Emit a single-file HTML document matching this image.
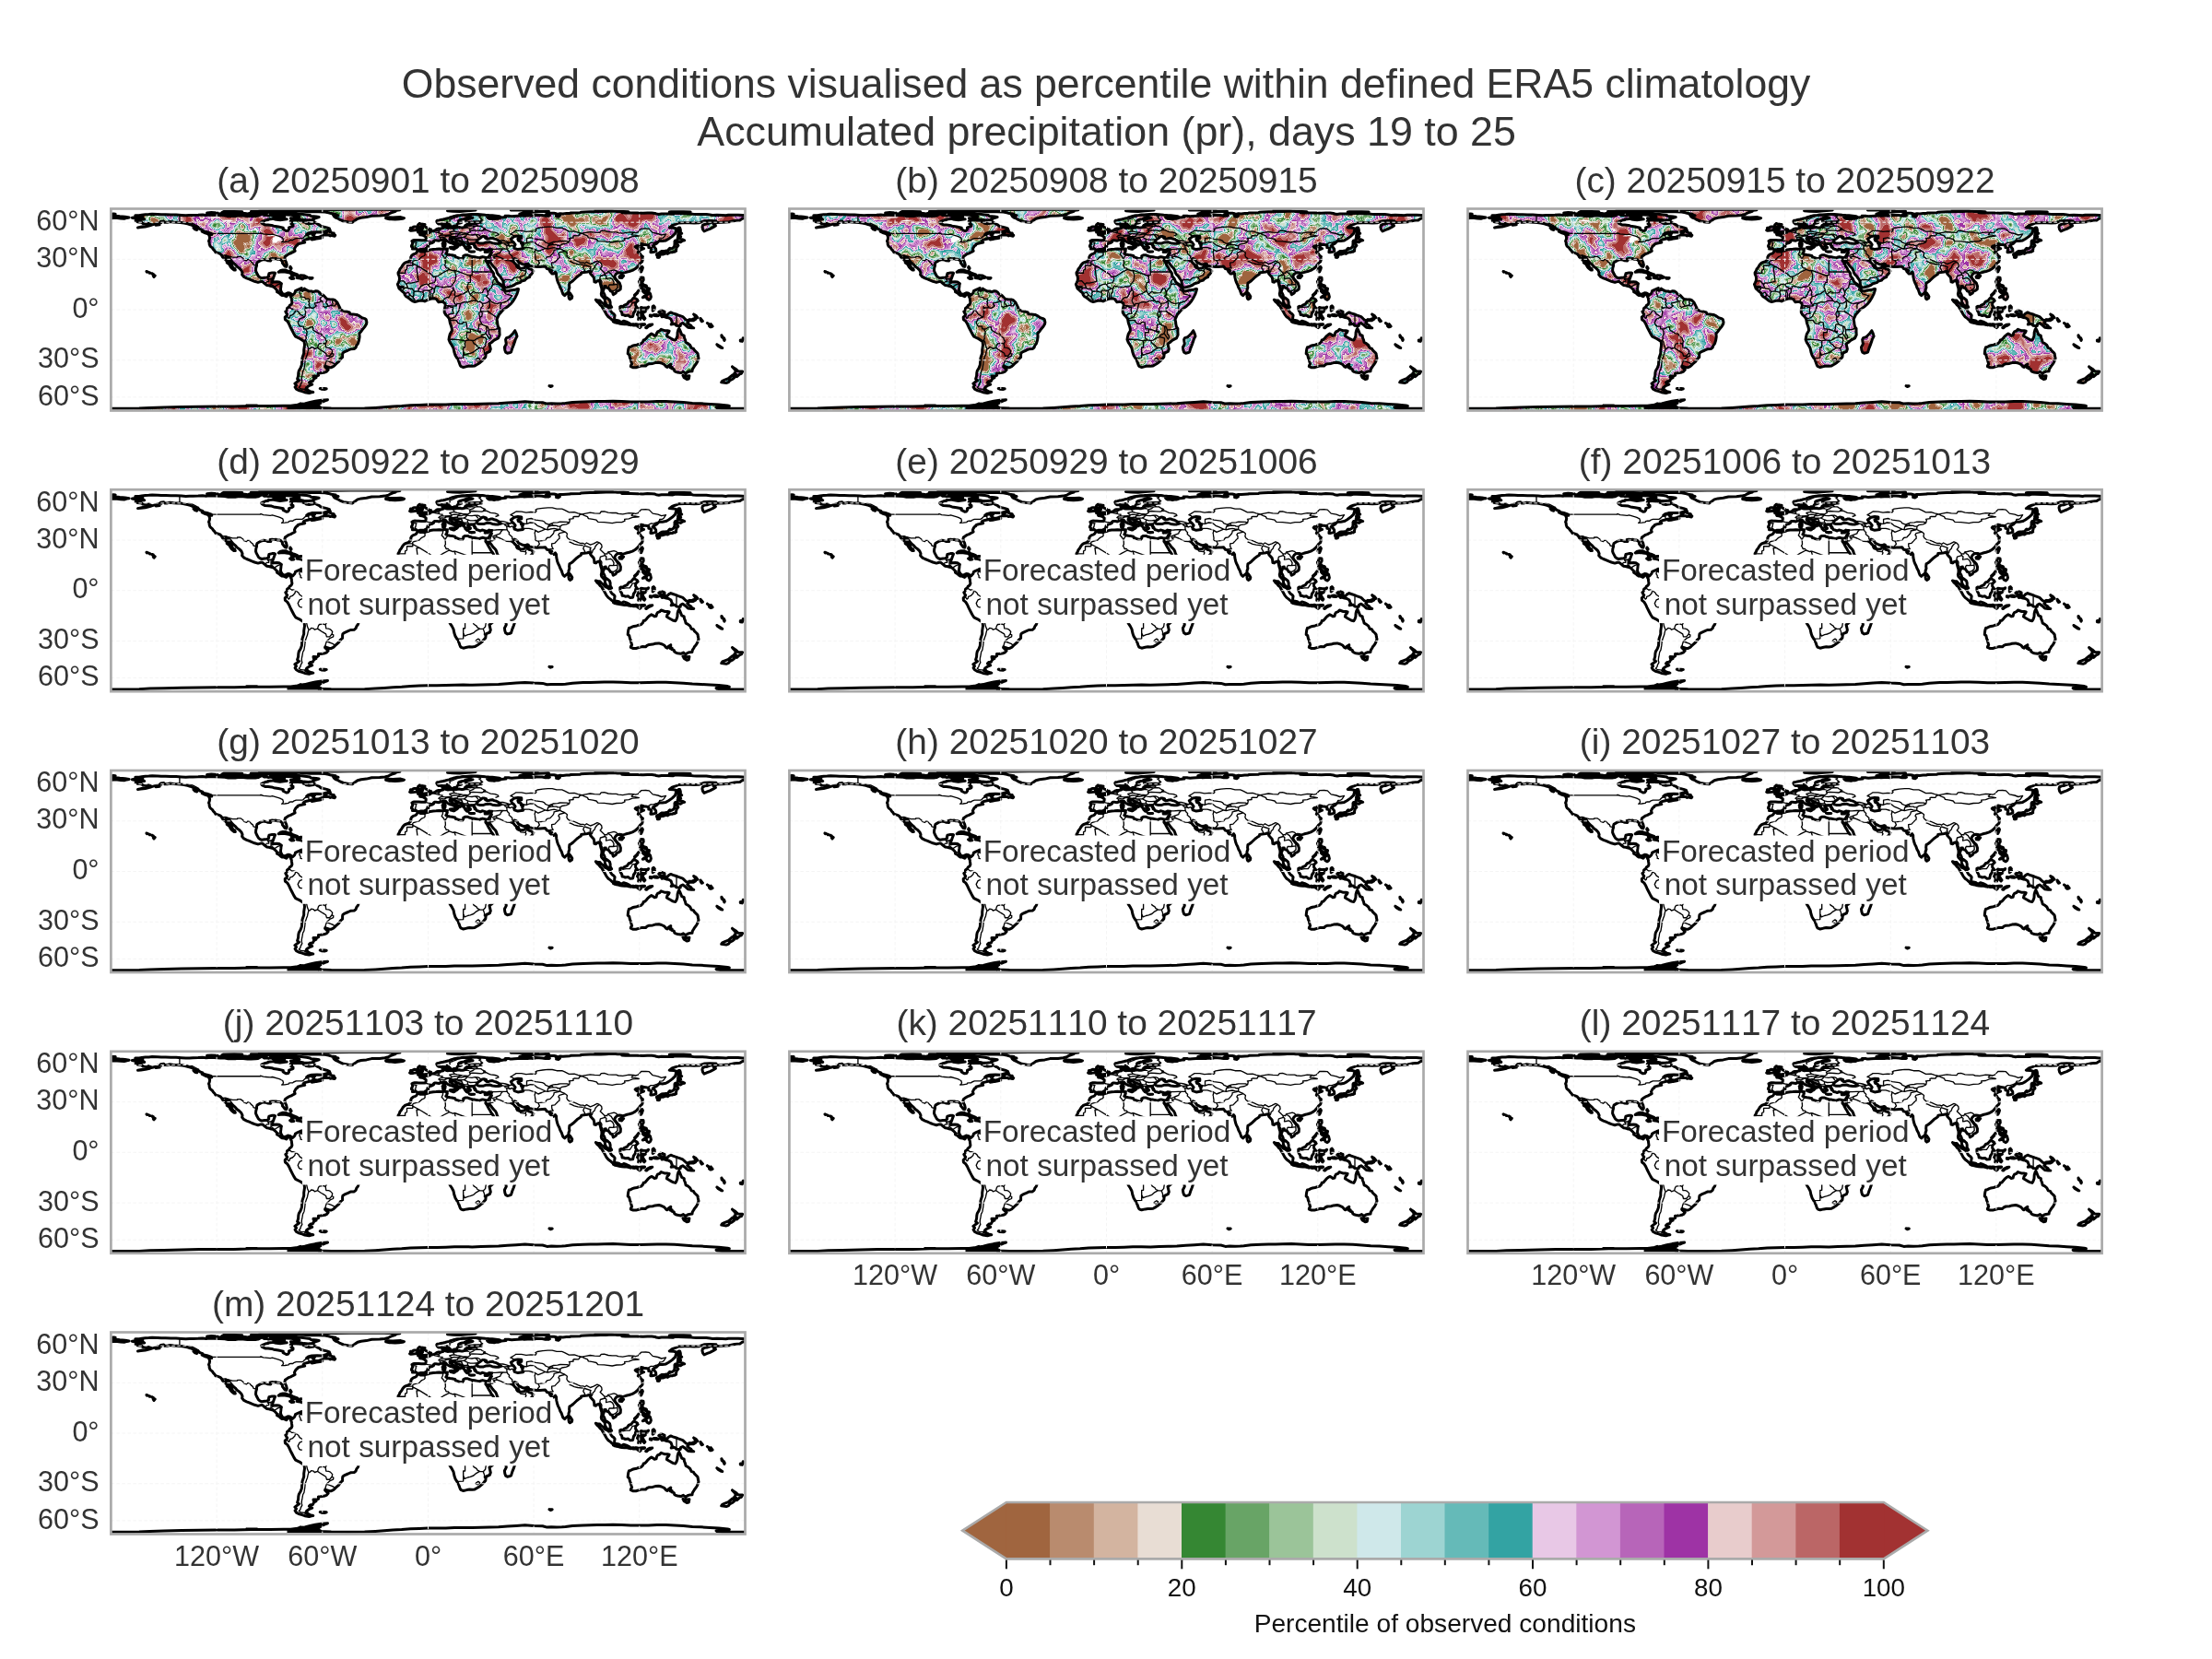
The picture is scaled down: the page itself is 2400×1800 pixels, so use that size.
<!DOCTYPE html>
<html><head><meta charset="utf-8"><title>Observed conditions percentile</title>
<style>html,body{margin:0;padding:0;background:#fff;} svg{display:block;} text{opacity:0.995;font-kerning:none;}</style></head>
<body>
<svg width="2400" height="1800" viewBox="0 0 2400 1800" font-family="Liberation Sans">
<defs>
<path id="land" d="M196.1,92.9 194,91.6 191.9,91.3 190.2,92.2 188.3,92.8 186.9,92.4 185.6,91.3 184.3,89 184.1,86.9 184.4,84.9 184.6,82.5 185,81.2 182.5,79.5 179.7,79.3 176.6,79.5 175.5,79.9 175.3,78.4 175.5,76.6 176.2,75.1 177,72.8 178.1,69.9 177.2,69.4 174.9,69.4 171.5,70.3 171.1,71.7 171.3,73.3 169.3,74.6 166.7,74.8 163.6,75.3 161.5,74.4 160,73.1 159,71.2 157.9,69.2 157.1,67.1 157.3,64.4 158.1,61.7 158.1,59.8 158.6,58.3 160.6,57.1 163,55.8 165.3,55.1 168.2,55.4 170.3,56.3 173.2,56.4 173.6,55.4 172.6,54.4 174.9,54.1 176.8,54.3 179.1,54.1 180.8,54.8 182.9,54.8 184.3,55.4 186,57.1 186,58.9 187.5,60.8 188.8,62.5 190.4,62.9 190.9,61.2 190.2,58.1 188.8,55.4 188.5,53.6 189,51.8 190.8,50.5 192.9,49.1 195,48.4 196.9,47.3 198.8,46.4 199.7,45.8 199,43.8 199.7,42.2 200.5,40.9 200.9,40.3 202.4,39.4 202.6,38.4 204.5,37.8 206.8,37.2 209.1,36.8 210.3,36.5 208.7,35 209.9,33.9 212.2,33.3 215.6,32.5 217.9,31.8 220.8,31.5 217.9,33.4 220.8,33 222.7,32.6 226.5,31.9 229.4,31.3 228.4,29.6 226.5,30.5 224.6,31.1 222.1,31 220.8,30.5 220.2,29.4 218.9,28.4 221.1,27 216.9,26.6 212.2,27.9 214.1,26.5 217.9,25.4 223.6,25.3 229.4,25.4 234.1,23.9 237.6,23 237,21.5 234.1,20.4 230.3,19.5 227.5,18.7 226.1,17.4 223.6,16.3 221,14.4 219.8,15.6 215,16.3 211.8,15.8 211,14.8 207.4,13.6 203.6,12.6 199.5,12.6 195.7,12.4 194.8,13.7 196.1,14.7 195.5,16.4 197.6,17.2 197.6,18.6 196.1,19.4 193.1,20.4 193.2,22.2 192.1,23.7 190.2,24 188.3,23 186.7,22.2 186.9,20.6 181.6,19.5 176.6,18.7 174.3,17.9 170.5,17.5 167.2,17.4 164,15.8 163.2,14.6 165,13.6 167.4,12.6 170.7,12 170.5,11.4 175.1,11 177.8,10.6 179.5,9.5 181.6,9.2 185.4,9.3 188.3,8.9 187.7,8 185.4,7.1 181.6,6.9 179.7,7.8 176.8,8.3 173.6,7.1 170.9,7.6 169.2,6.9 166.3,7.1 163.8,5.4 159.6,7.6 156.7,8 152,8.1 148.1,8.1 143.4,7.6 137.6,7.5 134.8,8 127.1,8 123.7,7.3 118.5,7.1 111.8,6.7 106.1,6.6 103.2,7 99.4,6.5 94.6,6.8 88.9,7 85.1,7.1 81.2,7.3 76.5,6.9 70.7,6.5 65,6.5 59.3,6.3 54.5,6.3 50.7,6 44.7,5.8 41.1,6.1 37.3,6.3 33.4,6.8 30.6,7.3 26.4,7.3 26.8,7.8 31,8 34.4,8.7 30.2,9 26.8,9.3 22.9,9.8 26.4,10.6 30.6,10.7 35.4,10.8 36.3,11.6 31.5,11.8 29.1,12.3 26.8,13.2 28.7,14.2 33.4,14.7 34.4,15.9 38.2,16 42.1,15.9 43.4,17 40.7,18.2 37.3,18.9 33.4,19.6 29.1,20.4 32.5,20.1 37.3,19.5 42.1,18.4 44.9,17.4 48.7,16.4 50.7,15.4 54.5,15.1 53.9,14 57.3,13.5 58.3,14.7 61.2,14.7 64,14 67.9,14.6 71.7,14.7 75.5,14.9 79.3,15.5 83.1,16.4 86,17.2 87.9,17.9 90.8,19.3 93.7,20 95.2,20.9 96.5,22.1 99.4,23.2 100.3,24.4 104.2,25.3 107,26.2 108.9,26.9 109.3,28.1 108,27.9 105.7,27.6 106.8,29.6 107.2,31.4 106.8,33.4 106.1,35.1 106.7,36.5 106.8,38.4 107.6,40.6 109.9,42.4 111.1,44.2 112.8,45.9 113.5,47.3 116.6,48.1 118.5,48.8 120,50.4 121,52.3 122.3,53.8 124.2,55.1 125.8,56.9 125.8,58.6 128.4,60.3 129.6,62.7 130.9,64.3 133.4,66.4 134.9,66.4 134.2,64.8 132.5,64.1 131.3,61.7 129.8,58.9 128.3,56.8 127.1,54.4 125.2,52.3 124.6,51.6 128.1,52.8 130,55.6 132.3,58.4 134.9,60.6 136.7,62.7 139.1,64.4 141.4,66.7 142.6,69.4 142.2,71.5 144.3,73.9 147.2,75.3 150,76.4 152.9,77.7 155.8,78.8 159.6,79.9 162.5,79.1 164.4,79.1 167.2,81.5 169.2,83 171.1,83.2 173,83.9 175.8,84.5 176.8,85.1 177.8,86 179.3,87.5 180.2,88.6 180.1,90.1 181.6,90.9 182.5,91.4 184.3,93.1 185.6,93.9 187.9,94.1 190.2,95.2 190.9,94.7 190.2,93.7 192.1,92.6 193.8,93.3 194.6,94.3 195.2,95.8 195.9,97.1 196.1,99 196.5,101.9 195.7,103.8 193.8,105.1 193.1,106.6 191.1,108 190.8,110.1 189.4,111.6 190.6,113.7 191.3,114.5 190.6,116 188.8,117.7 189,120.2 191.3,121.9 193.1,124.8 194.6,128.2 196.7,132.3 198.4,135.6 200.3,138.6 205.5,141.2 207.8,142.8 209.7,144.1 210.1,147.9 209.3,153.2 209.3,156.7 207.6,161.8 207.2,165.9 207,169.2 205.7,172.8 203.9,175.7 203.4,178.1 203.2,181.4 202.2,184.6 204.1,186.3 201.7,188 199.5,189.6 201.1,191.5 199.7,193.4 201.1,195.6 203.6,197 207.4,198.1 210.3,199.2 215,200 217.5,199.2 219.4,198.9 216,198.1 213.1,196.5 211.2,196.2 213.3,196.2 211.8,194.9 212.4,193.7 214.6,192.2 218.3,190.6 215,188.7 216.6,187.2 218.9,187 220,184.9 221.3,183.8 222.5,183.4 219.8,182.8 219.6,181.4 223.6,181.5 225.2,180.6 225,178.4 227.5,178.3 232.2,177.5 234.1,176.6 235.7,174.8 234.5,173.6 232.2,171.5 232.4,170.6 234.7,171.4 237,172.2 239.1,172.2 241.2,171.2 242.4,170.1 244.1,168.4 247.1,165.8 249.1,162.9 251.2,161.1 251.2,158.2 251.5,156.5 253.6,155.1 257.3,153.5 259.9,152.3 263.8,152.1 265.7,150.5 266.4,148.4 268,146.3 269.1,142.8 269.7,139.1 269.5,135.1 271.4,133.2 273.3,130.4 275.6,127.8 277.2,125.1 277.5,123.1 276.8,120 275.2,119.1 272.2,118.3 269.7,116.4 266.6,114.9 262.8,114.5 259.4,114.3 258.8,112.4 255.2,111.4 252.3,110.9 249.4,109.7 247.5,109.1 248.5,107.6 246.6,103.8 245.4,101.5 243.1,99.2 240.8,98.4 237.2,98.3 234.7,98.1 233,96.5 231.1,94.5 229.4,93.1 227.5,92.6 226.1,90.7 224.6,89.6 222.3,89.2 219.4,90.3 217.5,89.4 214.5,89.4 213.5,88.8 211.2,87.7 209.9,86.7 209.7,87.9 207.6,88.8 207,88.6 206.4,87.7 206.8,86 204.9,86.9 202.2,88.1 200.1,89.2 199.4,91.4 198,92.9 196.9,93.9ZM405.8,52.7 408.1,52.9 409.4,52.6 410.6,50.8 411.1,49.7 411.9,48.4 412.7,47.3 412.5,45.6 412.9,44.8 413.2,44.2 411.9,44.2 410.4,43.9 409,44.8 406.7,45.1 405.2,44.4 402.7,43.8 400.8,44.8 398.5,43.9 396.8,43.6 396.2,42.4 394.7,41.6 395.3,40.6 393.9,39.9 394.1,39 394.3,38.2 392.8,38 390.9,37.8 389.3,38.1 387.8,38.2 387.2,39.1 388.6,40 387.6,40.7 389,41.3 390.1,41.8 389.9,42.5 388.2,42.2 388,43.2 387.6,44.2 386.9,44.4 385.9,43.9 385.3,43.2 384.4,42.4 385,41.6 383.8,40.9 382.9,39.9 381.9,39.1 381.1,38.5 381.3,37.7 381.1,36.4 379.8,35.7 378.1,34.8 375.6,34.1 373.9,33.4 372.9,32.5 371.8,31.8 370.2,31.9 370,31.1 367.9,31.4 367.6,32.3 367.8,33.2 368.9,33.7 370.4,34.8 371.8,36 373.7,36.4 375,36.5 374.4,37.1 376.9,37.8 379.4,38.8 379,39.4 376.5,38.5 375.8,39.6 376.7,40.6 375.8,41.5 374.8,42.2 374.1,41.8 374.4,40.9 375,40 374.1,39.1 372.7,38.7 371.8,38.1 370.8,37.8 369.9,37.2 368.1,36.9 366.6,36.1 365.3,35.5 364.3,34.8 363.7,34 363.2,33.3 361.6,33 360.1,33.3 358.6,33.7 357.4,34.1 355.9,34.7 354.2,34.4 352.7,34.3 350.9,34.3 350,35.1 350.2,36 349,36.8 347.5,37.4 345.8,37.8 345.2,38.4 344.1,39.3 343.5,40 344.4,40.9 343.1,41.6 342.7,42.7 341.4,43 340,44.1 337.7,44.1 335.6,44.1 334.1,44.5 333.3,45.1 332.6,44.5 331.8,43.9 330.7,43.3 329,43.6 327,43.6 327.2,42.2 327,41.3 326.1,41 326.1,40 326.8,38.8 327.4,37.5 327,36.2 326.5,35 327.8,34.3 329.3,33.9 331.6,34 333.9,34.1 336.8,34.3 339.3,34.3 340.6,34.3 341.4,33.4 341.8,32.1 341.8,30.7 340.2,29.7 339.3,29 337.4,28.5 335.4,28.3 335.1,27.6 337.4,27.1 339.3,27.4 341,27.2 341.6,26 343.7,26.5 344.6,26.1 346.5,25.5 347.1,24.5 348.8,24.3 350.4,23.9 351.7,23.3 352.7,22.7 353.2,22.1 354.8,21.6 357.2,21.5 359.1,21.3 360.5,20.9 361.1,20.4 360.5,19.6 359.7,19.2 359.5,18.2 360.3,17.6 362.4,17.3 364.3,16.9 364.1,17.5 363.7,18.2 364.9,18.4 363.5,18.8 362.8,19.4 363,20 363.5,20.6 365.1,20.9 367.2,20.7 368.9,20.5 370.8,20.9 373.7,20.7 376.2,20.2 378.5,20 379.6,20.5 381.5,20.5 383.8,19.9 384.6,19.2 384.2,18.4 385,17.7 386.3,17 388,17.5 389.9,17.7 390.7,16.7 389.2,16.2 389,15.5 391.3,15.2 394.7,15.1 397.6,15.2 400.4,14.8 402,14.8 399.5,14.5 397.6,14.2 394.7,14.3 391.8,14.5 388,14.8 386.1,14.4 385,13.7 385.1,12.6 384.6,11.9 386.9,11.3 389,10.8 391.1,10.3 392.6,9.9 391.1,9.6 388,9.6 385.7,9.9 384.8,10.3 383.2,11.1 381.3,11.5 379.4,11.9 377.7,12.6 377.1,13.3 377.1,14.1 379.4,14.5 380.2,15 378.5,15.6 376.2,16 375.6,17 375.4,18.1 374.2,18.6 372.1,18.6 371.2,19.4 368.9,19.4 368.7,18.8 367.9,18.4 367.8,17.8 366.8,17.2 366.4,16.3 365.5,15.7 364.5,15.2 363.9,15.5 362.4,15.6 360.1,16.4 357.4,16.6 355.3,16.5 354.6,15.8 354,15.2 353.6,14.3 353.4,13.5 354,12.8 356.1,12.4 358,11.9 360.5,11.5 362.6,11 364.7,10.4 367,9.9 368.5,9.2 370.4,8.6 372.5,8 374.2,7.6 376.5,7.2 379.2,6.9 381.9,6.5 385.1,6.4 388,6.2 391.3,6 394.7,6 397.6,6 400.8,6.2 403.3,6.4 406.2,6.8 410,7.1 413.8,7.3 417.6,7.7 421.5,8.3 422.6,8.9 420.9,9.3 417.8,9.5 413.8,9.3 410.6,9 408.1,9 409,9.9 410.4,10.7 413.8,10.9 415.7,11.3 417.6,10.8 420.5,10.7 421.5,10.3 423.4,9.6 426.2,9.2 428.5,9.1 428.2,8.5 427.8,7.7 431.6,7.7 432.9,8.1 434.8,8.3 437.7,8 441.5,7.7 446.3,7.4 448.2,7.8 452,7.6 455.9,7.3 457.8,7.7 460.3,7.3 459.9,6.7 464.5,6.9 467.9,7.1 471.2,7.7 473.1,7.6 475,7.8 475.9,7.3 474.4,6.9 472.1,6.9 471.7,6.3 473.1,5.7 475.9,5.1 476.9,4.8 480.7,4.8 483.2,5.2 482.6,6 483.6,7.3 483.2,8.3 485.5,8.7 487,7.6 486.4,6.7 485.1,5.8 487.4,5.2 490.3,5.4 494.1,5.1 497.9,4.9 498.9,4.5 509.4,4.2 510,3.7 514.2,3.5 519.9,3.3 525.6,3.3 531.4,3.1 537.1,2.9 543.4,2.5 547.6,2.7 549.5,3 556.2,2.9 560.8,3.2 561.6,3.5 559.1,4.1 554.3,4.2 558.1,4.4 563.9,4.4 570.5,4.5 577.2,4.8 582,4.4 586.8,4.5 590.2,4.9 591.6,5.5 594.4,6 597.3,5.5 604,5.6 609.7,5.7 611.6,5.1 615.5,5 622.2,5.2 629.8,5.4 631.7,5.7 635.5,6 641.3,6 646,6.1 649.9,6.6 652.7,6.9 657.5,6.8 663.3,6.9 667.1,7.3 669.9,6.7 674.7,6.7 680.5,6.7 685.2,7.1 688.1,7.3 688.1,10.2 685.2,10.6 682.4,12.4 676.6,13 670.9,14.2 663.3,14.7 657.5,14.9 655.6,16.1 653.7,16.8 656,18.5 653.7,19.9 649.9,21.8 647,22.9 643.6,24.4 642.2,22.6 641.5,19.8 642,17.9 644.1,16.8 646.6,16.6 649.9,15.3 653.5,14.4 656.6,13.3 649.9,13 644.1,13.2 638.4,15.2 632.7,15.5 627.9,15.3 622.2,15.3 615.5,15.6 612.6,16.8 608.8,18.2 605.9,20.4 610.7,20.7 614.3,21.7 613,23.8 612.2,26.9 608.8,30.1 605,32.8 602.1,34.4 598.3,35.1 595.4,34.8 593.9,35.8 592,37.7 588.7,39.4 587.8,40.3 589.5,41.3 591.2,43.6 591.4,45.9 589.7,46.7 586.8,47.3 585.5,47.2 585.8,45.1 586.4,43.6 584.9,42.4 583.4,42.1 583.5,39.9 581.8,39.3 578.2,38.7 575.7,40.7 577.6,38.5 575.3,38 573.4,39 572.1,40 569.6,40.4 568.8,41.3 570.5,42.7 572.1,43.3 574.8,42.4 578.2,43.2 575.3,44.4 572.5,45.9 571.9,47.3 574,48.6 575.3,50.7 577,52 576.3,53.4 577,54.9 576.3,57.3 574.4,58.9 572.8,61.2 570.5,63.8 568.6,65.3 565.8,66.9 562.3,68 560,68.5 557.2,69.4 555.3,69.9 554.7,71.5 553.7,69.4 551.4,69.2 549.5,69.6 547.8,71 546.3,73.3 547.4,75.7 549.5,78.2 551.8,80.6 553,83.9 552.8,87.3 551.1,88.6 548.6,89.7 547.8,91.4 544.9,93.1 544.4,91.3 543.6,89.7 541.9,89.2 540.7,87.3 539.6,86.2 537.1,85.4 536.9,83.9 535.4,84.1 535,86.4 533.7,89.9 535,92 535.8,93.9 536.1,95.8 537.7,96.4 539.4,97.7 541.1,99.2 541.7,101.3 541.7,104.2 543.2,106.8 541.9,107 540.2,105.7 537.9,104.2 536.5,102.1 536,100 535.8,98.1 534.8,96.9 532.3,94.3 531.9,92.4 532.5,89.6 532.5,86.7 531.6,83.9 530.8,80.4 529.8,77.7 527.5,78.4 526.2,79.7 524.5,79.3 524.3,76.6 523.7,74.2 521.8,72.2 520.5,70.8 519.9,69.4 519.5,67.8 517,68.5 515.1,68.8 513.2,69 510.3,69.4 510,71 507.5,72.6 505.6,74 503.5,76 501.4,78 499.4,79.5 497.5,80.6 497.2,83.6 497.5,85.6 496.6,88.1 496.6,89.9 495,91.8 493.5,92.8 492.2,94.1 490.5,92.6 489.7,90.5 488.9,88.1 487.4,85.4 486.4,82.5 485.1,80.1 484.2,77.5 483.4,74 483.2,71.7 483.2,70.3 482.1,68.7 480.5,70.4 478.8,70.6 476.3,68 478.4,67.1 475.6,66.2 474.4,65.3 472.9,65 471.7,63.2 471.2,62.5 468.3,62.7 465.4,62.9 462.2,63.1 459.1,62.5 456.4,62.2 453.6,61.7 452.8,60 451.7,59.6 450.1,60.3 447.8,60.5 445.9,59.8 444,58.8 442.1,57.9 441,56.1 439.6,54.6 437.7,53.9 436.8,54.9 435.8,55.6 436.6,57.3 438.3,59.3 439.8,60.6 440.2,62.4 441.1,63.8 441.9,61.3 442.7,63.1 442.7,64.4 445.4,64.8 448.2,64.3 450.1,62.5 451.3,61.3 451.9,60.8 451.9,63.4 453.4,65.1 455.9,65.7 458.4,67.6 457.2,69.6 455.9,71.3 454.5,72.4 454.3,74 452.2,74.8 449.9,76.4 449.2,77.5 445.4,78.6 443.8,80.1 439.6,81.2 437.1,83 433.9,84.3 430.1,85.3 428.2,85.6 427,85.4 426.6,84.3 425.9,81.9 425.7,79.9 425.3,77.9 423.8,75.9 422,73.1 419.9,71.2 418.8,69 418.4,67.3 417.3,65 415.5,63.2 414,61.5 412.1,58.8 410.8,57.8 410.8,55.6 410.2,56.9 409.5,58.5 408.1,57.1 406.2,54.9 406.6,56.4 408.1,58.4 409,60.3 410.2,62.4 411.5,64.4 412.3,66.2 413.8,68.1 415.2,70.3 415.3,73 417.6,75.7 419.2,79.3 420.5,80.6 422.8,82.1 424.9,84.3 426.8,86 426.4,87.5 428.5,89.6 431.6,89 434.8,88.2 437.7,88.1 440.6,87.1 442.1,87.1 441.5,89.6 440.6,92.4 438.7,96.2 436.4,100 433.9,103.2 431,105.7 427.2,108.4 424.3,111 422.4,113.3 420.9,114.9 419.7,117.7 418.6,120 419.2,122.9 419.5,125.7 420.1,128.2 421.5,130 421.5,133.2 421.7,136.9 420.1,140.3 415.7,142.6 412.9,145 410.6,146.6 411.3,149.7 411.9,152.3 410.9,154.9 407.1,156.5 406.7,158.4 406.4,160.9 404.8,162.6 402.9,164.9 400.4,166.9 397.6,168.8 394.7,170.4 391.8,170.8 389,170.6 386.1,171.1 382.3,172 380,171.2 379.2,170.4 378.5,168.8 377.5,165.9 376.2,163.4 375.4,161.9 373.7,159.2 372.5,155.8 371.6,151.4 369.9,148.2 367.9,145.2 366.6,141.9 367,139.3 367.8,136 370,132.3 369.9,130 369.1,127.2 367.9,123.8 367.4,121 367,119.1 365.3,117 363.2,114.9 361.8,112.4 361.8,109.5 362.2,107.6 362.8,104.7 362.4,102.4 361.1,101.9 360.3,100.9 357.6,101.1 355.5,101.3 354.6,100.2 353.2,98.1 350.7,97.3 347.9,97.5 346,98.1 343.5,98.8 340.4,100.4 338.3,99.8 335.4,99.6 332.6,100.2 329.7,101.1 327.8,100.4 324.9,98.4 322.5,96.5 320.2,95.2 318.8,93.3 318.2,91.4 316.3,89.9 315,88.6 312.7,86.7 311.9,84.5 311,81.9 311.9,80.1 312.7,78.4 313.1,75.7 312.7,73 311.7,71 311.6,69.4 312.9,67.4 313.5,65.5 315,63.8 316.1,61.9 316.9,60.6 318.6,58.9 320.2,58.1 323,57.1 324.9,55.6 325.5,53.9 325.3,52.6 326.3,50.7 328,49.4 330.3,48.6 331.4,47.8 332.2,46.4 332.8,45.5 333.9,45.3 335.4,46.4 338.3,46.2 339.8,46.5 341.8,45.9 344.1,45.3 346.5,44.4 349.8,43.9 352.8,43.8 356.1,43.5 359.3,43.8 362.4,43.2 363.7,43.6 365.1,43.6 364.1,44.5 364.9,45.6 364.1,47.5 363.4,48.6 365.5,49.5 367.9,50 369.9,50.2 373.3,51 373.9,52.3 376.5,53.1 379.4,54.1 381.5,53.9 382.5,52.5 382.3,51.3 384.2,50.2 387.1,50.2 388.6,51 390.9,51.6 392.2,52.1 394.7,52.3 397.6,52.9 399.5,53.3 401.8,52.5 403.3,52.1ZM0,7.3 3.8,7.6 9.6,8.3 15.3,8.8 19.7,9.5 17.2,9.9 14.3,10.8 10.5,10.5 6.7,10.1 2.9,9.9 0,10.2ZM204.5,2.3 214.1,1.6 225.5,1.1 242.7,1 259.9,0.7 281,0.7 296.3,0.8 305.8,1.1 313.5,1.3 307.7,2 308.7,2.8 305.8,3.7 303,4.8 301,6 297.2,6.9 291.5,7.6 282.9,7.8 277.2,9.1 271.4,9.7 267.6,10.7 264.7,12.8 261.9,14.7 258,14.4 252.3,13.5 248.5,11.9 246.6,10.7 243.7,9.5 241.8,8 246.6,7.3 240.8,6.3 243.7,5.7 238.9,5.1 236.1,4.2 232.2,3.5 225.5,3.2 216,3.3 208.3,2.8ZM225.7,9 221.7,10.3 219.2,11 220,11.8 214.1,12.4 209.3,12.1 202.6,10.8 196.9,10.8 195,10.3 201.7,9.5 204.5,8.6 200.7,7.8 195.9,6.7 190.2,6.6 182.5,6.5 174.9,6.3 173,5.7 178.7,5.1 181.6,4.5 191.1,4.4 198.8,4.9 206.4,5.7 212.2,6.4 216,7.1 216.9,8 222.7,8.5ZM191.1,3.2 200.7,2.4 209.3,1.8 223.6,1.2 225.5,0.9 210.3,0.8 191.1,0.8 172,1.2 162.5,1.7 160.6,2.4 166.3,3 172,3.1 168.2,3.5 179.7,4 191.1,4ZM152,6.6 144.3,7.3 128.1,7.1 119.5,6.7 116.6,5.8 120.4,5 130,4.8 137.6,4.7 145.3,5.1 150,5.7ZM105.1,5.4 109.9,5.8 114.7,5.7 115.6,4.5 108.9,4.1 104.2,4.5ZM155.8,5.4 158.6,5.4 159.6,4.5 153.9,4.3 150,4.9ZM162.5,5.4 166.3,5.1 170.1,4.3 162.5,4.2ZM142.4,3.7 133.8,3.9 120.4,4.1 122.3,3.1 133.8,3 142.4,3.3ZM156.7,3.7 152,3 160.6,2.8ZM179.7,11.1 188.3,11.1 190.8,11.3 183.5,12.3 177.8,11.4ZM302,11.2 298.2,10.4 301,9.9 298.2,9.8 301,9.2 305.8,9.4 309.6,9.3 314.4,9.1 316.3,9.6 318.1,10.1 316.3,10.8 312.5,11.3 308.3,11.6 303.9,11.3ZM365.1,2.2 370.8,1.7 380.4,1.5 395.7,1.6 386.1,2.3 378.5,3 370.8,2.7ZM443.4,5.7 451.1,6.2 455.9,6 451.1,4.8 458.7,3.5 475,2.8 464.5,3 453,3.5 447.3,4.5ZM525.6,2 535.2,1.8 544.7,2.2 539,1.5 525.6,1.3ZM605.9,3.5 615.5,3.8 628.8,3.6 621.2,3.2 607.8,3.3ZM433.9,1.5 449.2,1.6 462.6,1.3 454.9,1.1 439.6,1.3ZM0.2,5.7 4.8,5.8 2.9,5.6ZM333.2,25.5 336,25.1 337.6,24.9 341.2,24.8 344.6,24.6 346.7,24.2 346,23.5 347.3,22.6 346.9,22.2 344.6,22.1 344.4,21.5 343.7,20.9 341.9,20.2 341,19.3 339.8,18.8 338.3,18.7 339.1,18.4 340.2,17.7 340.6,17 338.1,16.9 336.2,17 337.9,16 334.5,16 334.1,16.6 333.2,17.4 333.2,18.2 333.5,18.7 333.3,19.5 334.3,20 335.6,19.9 337.4,19.9 337.6,20.5 338.3,21.1 338.1,21.7 336,21.7 335.3,22.3 336.2,22.9 334.7,23.3 334.1,23.6 336,23.7 337.7,23.9 337.2,24.2 335.8,24.2 334.5,25ZM332.6,23.2 332.2,22.1 332.4,21.1 333.3,20.6 332.8,19.9 331.6,19.6 329.5,19.5 328,19.8 327.6,20.6 325.1,20.7 324.9,21.5 326.5,21.8 325.1,22.5 324.2,23.3 325.5,23.8 328,23.6 330.7,23.1ZM367.8,42.1 369.7,41.8 373.9,41.6 372.9,43.6 371.8,43.9 368.1,42.7ZM360.1,40.6 362.4,40.4 362.8,37.8 361.6,37.4 359.7,37.8 360.1,39.3ZM360.5,37.1 362,37.1 362.2,35 360.5,35.7ZM389,46.2 394.3,46.4 390.9,46.7ZM405.8,46.9 409,46.9 410.2,45.6 407.1,46.1ZM365.1,19.6 368.1,19.2 367.4,18.6 365.1,18.9ZM594.3,48.4 595.2,47.6 597.5,46.1 599.2,45.9 601.1,45.8 603,45.6 604.2,45.5 605.5,43.5 606.5,42.8 606.5,43.9 608.4,43.2 610.3,42.1 611.1,40.6 611.6,39.4 611.5,38.2 612.2,37.4 614.1,37.1 614.5,38.4 615.5,39.9 614.7,40.9 613.6,41.6 613.4,43.6 612.8,45.1 613.2,45.8 611.6,46.7 610.1,46.4 609.4,47.2 606.9,47.3 605.5,47.8 604,48.9 602.7,48.4 602.5,47.3 600.6,47.3 598.3,47.8 596.7,48.4ZM592.1,49.2 593.5,48.4 594.4,48.8 595.8,49.4 595.2,52.3 594.4,53.1 592.9,52.8 592.9,50.7 592.1,50.2ZM597.3,49.4 598.8,49.5 601.5,48.6 601.1,48 599.2,47.8 598.1,48.3ZM611.6,36.9 613.6,36.7 614.5,35.5 618,36.2 620.2,34.8 622.3,34.4 620.2,33.4 617,32.5 614.9,31.5 614.7,33.2 614.3,34.4 612.2,34.4 611.6,35.5ZM615.5,30.7 616.8,29.9 618.3,30.2 617.4,28.8 616.6,27.5 619.3,26.9 617.8,25.4 618,23.8 617.8,22.3 617.2,20.6 615.8,20.6 616.4,22.1 614.9,23.2 615.7,25 615.5,27.5 615.1,29.4ZM573.6,66.7 574.8,68.5 575.3,68.3 576.3,66.2 577,63.9 576.3,62.7 574.8,63.9 573.8,65.5ZM551.6,73.5 554.3,71.9 556.2,72.8 554.3,75.1 551.8,74.8ZM574.4,74.8 575.7,74.6 577.6,74.8 577.8,77.3 576.5,79.5 576.7,81.4 578.4,82.7 580.9,83.4 581.4,85.6 579.7,84.9 578.2,83.8 576.3,83.4 574.8,82.5 574.6,81.5 573.4,80.2 573,78.8 574,78ZM577,96.2 578.8,94.7 580.5,94.7 581.4,93.7 583,92.4 583.9,90.9 585.1,92 586,95.6 585.3,97.5 583.7,98.8 581.6,97.7 580.9,95.6 578.8,95.8ZM582,85.8 584.1,86.7 583.4,89.9 582.6,90.5 581.6,88.6ZM577.2,86.9 579.5,88.6 580.1,92 578.2,90.7 577,89.4ZM568.1,93.7 570.5,91.4 572.5,88.6 572.7,89.7 570.7,92 568.4,94.3ZM574,83.9 576.3,84.5 575.7,86.2 574.2,85.8ZM552.4,106.3 553.5,105.7 555.3,106.3 556.6,104.9 560,103.4 561.9,100.7 564.2,100 565.8,98.1 567.3,96.4 569,97.3 570.7,98.3 571.9,99.6 570.2,101.1 569.2,102.3 569.2,104.9 571.3,107.6 569.4,108 568.6,111 567.1,113 566.2,117 563.1,117.2 561.2,115.6 558.1,116 556.2,115.2 554.7,115.1 554.3,112.6 553,110.7 552.4,108.6ZM526,98.8 528.5,99.6 530.6,99.6 531.9,101.3 534.8,103.4 536.1,105.3 538.1,106.1 540,107.4 541.9,109.5 542.5,111.4 543.8,113 545.7,114.3 546.7,115.6 546.3,118.1 546.3,120.6 544,120.8 541.9,118.9 539.6,117.2 537.7,114.9 536,111.8 534.6,109.3 533.3,107.4 532.5,105.7 530.8,104.4 529.3,102.4 527.5,100.9ZM545.1,122.5 546.8,120.8 548.6,121 551.1,121.5 552.4,122.5 555.1,122.7 556.2,121.7 559.3,122.7 562.7,124.4 562.9,126.1 560,125.3 557.2,125.3 554.3,124.9 551.4,124.4 548.6,123.8 546.7,123.4ZM562.9,124.9 565.2,125.5 564.2,126.3ZM565.8,125.3 567.1,125.3 566.5,126.5ZM567.3,125.7 569.6,125.1 571.5,125.5 570.5,126.3 567.7,126.6ZM573,125.7 576.3,125.3 579.2,125.3 578.2,126.1 574.4,126.3ZM571.5,127.6 574.9,128.2 573.8,129.1ZM580.3,129.1 582,127.2 584.9,125.7 587.4,125.5 585.8,126.5 583,127.6 581.1,129.3ZM572.3,120 572.7,117.2 572.5,116.2 571.1,114.9 572.1,112.4 573,109.7 573.8,108.4 575.1,107 578.2,107.6 581.4,107.6 583.2,106.6 582,108.8 579.5,108.8 576.5,108.6 574.4,108.9 573.6,110.9 575.1,112.2 576.5,111.4 578.8,111 579.9,111.4 577.8,112.6 576.1,113.9 577.2,115.2 578.2,117.2 579.5,118.9 578.6,120 577,118.5 576.1,117.2 575.1,115.2 574.2,114.9 574.2,118.3 574.2,120ZM587.8,106.1 588.7,105.3 589.9,106.8 588.7,108 590,108.8 588.7,110.1 587.8,110.7 587.9,108.6 587.6,107.2ZM588.9,115.1 591.6,114.9 594.1,116 592.5,116.2 589.7,116ZM584.9,115.6 587.2,115.8 586.4,116.8 584.9,116.4ZM594.4,112.2 596.4,110.3 599.2,110.9 600.6,111.6 600.7,114.9 603,116 605,113.7 607.4,112.4 609.7,113.3 613.2,114.5 615.5,115.4 618.3,116.4 620.4,117.2 622.7,119.4 624.1,120.6 626.2,121.3 626.6,122.5 625.4,123.6 627.3,125.5 629.4,126.8 630.4,128.5 632.3,129.3 629.8,129.3 626,128.7 623.5,126.3 620.4,124 618.1,125.1 617.8,127 615.8,127 613.6,126.8 611.5,124.9 609.4,125.3 607.8,125.5 609,123.4 608.4,122.1 607.6,119.8 605,118.3 602.5,117.9 599.4,116.8 597.9,117.3 596.4,115.1 598.6,114.1 596.7,113.7 594.8,112.6ZM627.5,120.2 630.8,120 633.6,118.9 635.2,117.7 634.2,120 631.7,121.3 628.3,121.2ZM632.3,114.5 634.6,115.8 636.5,118.1 635.7,118.5 633.6,116.4ZM639.6,119.1 642,121.9 640.9,122.3 639.7,120.2ZM649.1,127.2 651.4,128.2 650.3,128.3ZM651,125.3 652.7,127.6 652.2,127.8ZM647,124 649.5,125.5 648.9,125.7ZM662.5,137.3 663.6,138.8 663.6,139.7 662.7,139ZM665.2,140.3 665.9,142.1 665.5,143 664.8,141.2ZM657.5,147.3 660.4,149.1 663.3,151.1 662.3,150.9 658.5,148.6ZM682.9,142.4 685.4,142.3 684.9,143.9 682.9,143.5ZM685.8,140.4 687.9,141 686.8,141.4ZM562.1,150.2 561.4,152.3 561,154.9 560.8,157.2 562.3,158.2 563.1,161.8 563.9,163.4 564.4,165.9 565.2,168.4 564.1,170.1 563.9,171.2 566.7,172.3 569.6,172.3 572.5,171.4 576.3,170.4 580.1,170.6 581.6,169.2 583.9,168.2 587.8,167.9 590.6,167.1 594.4,166.7 597.3,167.5 600.2,168.8 602.5,171.5 603.6,172 604.6,170.4 606.3,169.2 607.4,168.5 607.1,170.6 606.7,172.3 608,172.3 608.8,172 608.4,173.3 610.9,174.2 611.3,175.9 612.8,176.9 614.7,177.5 618.3,178.1 621,176.8 622.2,177.8 623.7,178.6 625.6,177.2 627.5,176.6 630.6,176.2 630.9,174.2 632.3,172 633.2,170.4 634.6,168.8 635.9,166.7 636.7,164.8 637.6,162.3 636.9,159.2 636.7,157.2 635.5,155.8 633.2,153.7 631.9,151.6 629.8,151.1 628.3,148 626,146.1 623.7,145 623.1,142.4 622,139.7 621.8,137.7 619.3,136.6 618.3,134.2 617.4,131.9 616.4,129.8 615.5,131.3 614.7,134.2 614.5,137.9 613.6,140.6 612.4,142.6 610.3,142.1 607.8,140.8 605.5,139.5 603,137.9 603.6,135.6 605.1,134.2 605.7,132.7 604,132.3 601.1,132.3 598.3,131.3 596.9,130.8 595.4,132.5 593.1,133.4 592.1,135.1 591.6,137.3 589.7,137.7 588.3,136.6 586.4,135.6 584.5,136.8 582.6,138.4 581.1,140.3 579.5,142.1 577.8,142.4 577.2,144.3 575.3,146.3 572.5,147 570.5,147.7 567.7,148.2 565.8,148.8 563.5,150ZM620.6,180.9 624.1,181.5 627.5,181.2 626.9,184.5 624.8,185 621.8,183.2ZM674.1,171.4 677.6,173.7 680.3,176.2 685.2,176.5 684.1,178.7 682.2,179.3 679.1,182.2 678,181.8 678.5,179.8 676.2,178.9 677.8,176.9 677.2,174.7ZM674.1,180.6 677.2,182.1 676.2,183.4 674.1,185 671.3,186.4 670.1,188.2 667.6,189.1 662.3,188.3 663.3,186.8 666.1,185.6 669.9,184.2 671.9,182.5ZM438.3,132.3 439.6,134.9 440.6,138.4 438.9,141.5 438.1,144.3 436.8,147.9 435.4,151.4 434.1,155.6 432,156.3 430.1,156.7 428.2,155.6 427.4,153.2 427,150.2 427.8,148.8 428.9,146.6 428.5,144.3 428.2,141.9 429.1,140.1 432,139.3 433.9,137.5 435.4,136 436.6,134.7ZM496.8,90.9 498.1,91.6 499.3,93.3 500.4,95.2 500,97.1 498.1,98.3 497,97.3 496.6,95.2 496.6,93.3ZM181.8,68.7 183.5,67.3 186.4,66.5 189.6,66.5 192.5,67.8 195,68 196.9,69.4 199.4,70.3 202.2,71.5 201.7,72.1 199.5,72.2 195.9,72.2 196.1,71 194,69.4 190.2,68.8 187.3,68.3 184.4,68.5ZM201.8,74.9 203.9,72.6 205.9,72.2 209.3,72.4 211.6,73.5 213.3,74.6 211.8,74.9 209.3,75.3 207.8,76.4 205.5,75.5ZM194.2,74.9 196.9,74.8 198.4,75.7 195.9,76ZM215.4,74.8 218.7,74.9 218.3,75.7 215.6,75.7ZM194.6,62.9 195.7,64.6 195.3,65.3 194.2,63.9ZM230.5,28.6 233.4,26.2 235.5,24.2 238,23.7 237.2,25 239.9,26.1 241.8,26.5 242.4,28.1 243.3,28.8 242.7,29.8 240.8,29.4 239.9,28.9 238,29.4 236.6,28.6ZM98.8,24.6 101.3,25.1 104.2,25.7 108.2,27.6 105.5,27.4 102.3,26.4ZM89.6,20.8 91.7,21.3 93.3,23 91.2,22.4ZM205.5,211.6 213.1,212.4 209.3,214 200.7,213.4ZM147.2,213.6 158.6,213.6 156.7,214 149.1,214ZM48.7,17.7 52.8,17.2 50.7,16.6ZM46.1,71.7 47.8,72.6 46.6,74 45.9,73ZM44.7,70.3 45.9,70.8 45.1,71ZM41.5,69.2 42.6,69.7 41.9,69.7ZM38.6,68.1 39.6,68.3 39,68.7ZM226.9,195 231.3,195 233.8,195.3 232.2,196 228.4,195.8ZM475.6,192.2 478.8,192.3 476.9,193ZM0,216.8 19.1,216.8 30.6,216.6 42.1,215.9 57.3,215.6 76.5,215.1 95.6,214.8 114.7,214.6 133.8,214.6 152.9,214 172,214 187.3,213.8 195,213.7 202.6,212.7 210.3,211.4 216,209.9 221.7,208.8 228.4,207.8 235.1,207.3 232.2,208.4 229.4,209.6 226.5,211.4 224.6,213.1 225.5,214.5 227.5,215.5 225.5,216.1 238.9,216.6 258,216.7 275.2,216.5 286.7,215.9 296.3,215.2 305.8,214.5 315.4,214 324.9,213.2 334.5,212.9 344.1,212.6 353.6,212.6 363.2,212.4 372.7,212 382.3,211.9 391.8,212.1 401.4,211.8 410.9,211.5 420.5,211.2 430.1,210.5 439.6,209.9 449.2,209.3 458.7,209.9 468.3,210.2 473.1,211.6 477.8,211.2 483.6,211.4 489.3,211.3 493.1,211 500.8,210 512.3,209.4 519.9,209.2 527.5,209.1 535.2,208.9 544.7,208.8 554.3,209.1 563.9,209.6 573.4,209.6 583,209.4 592.5,209.1 602.1,209.1 611.6,209.5 621.2,210.1 630.8,210.9 640.3,211.3 649.9,211.9 659.4,212.4 669,213.4 670.9,214 667.1,214.5 661.3,215 656.6,215.4 657.5,216.1 663.3,216.7 672.8,216.8 688.1,216.8 688.1,219 0,219ZM433.9,32.8 437.7,30.1 441.5,29.4 445.4,29.7 445.4,31.7 441.5,32.8 442.1,34.5 444.8,35.5 445.2,37.7 447.3,37.8 446.3,40.2 447.1,43.2 441.5,44.1 437.7,42.8 437.5,41.3 438.7,38.8 436.9,36.5 434.8,34.8 434.6,33.4ZM396.6,35.5 397.6,34.1 398.9,33 400.8,31.7 402.9,30.1 404.6,29.9 407.1,30.7 406.2,31.7 408.1,32.8 410,32.6 411.9,31.9 413.8,31.7 415.7,32.6 417.6,33 419.9,34.1 423.4,36.9 420.5,37.7 417.6,37.8 413.8,37.2 410.9,36.2 407.1,36.4 404.3,37.4 399.7,37.4 397.6,36.8ZM168,29.8 172,29.9 175.8,29.4 178.7,30.1 182.3,30.1 182,28.8 179.7,27.4 174.9,27.6 172,28.3 169.2,29.2ZM175.5,36.9 179.7,36.8 181.2,34.8 183.9,34.3 186.9,35.1 190,33 189.6,31 183.5,29.9 178.1,30.3 175.8,31.4 175.3,34.1ZM182.2,30.9 184.4,30.7 188.3,30.9 190.8,31.7 190.2,32.6 188.1,33.2 186.6,34.8 186.2,33.7 184.6,33.4 184.6,32.1 182.5,31.3ZM184.6,36.7 188.3,36.8 191.5,36 193.2,35.1 190.2,35.4 186.4,36.2ZM191.5,34.4 195,34.4 198.2,34.1 198.2,33.2 195.9,33.4 192.5,33.9ZM157.7,25 159.6,25 159,22.6 155.8,21.1 154.2,21.5 158.1,23.8ZM120.4,13.7 128.1,13.7 134.8,12.4 127.1,12.1 121.4,13ZM105.1,10.3 116.6,9.9 118.5,9.1 112.8,8.7 106.1,9.3ZM404.4,110.1 409,109.9 409,112.4 408.1,114.7 405.2,114.3 404.6,112ZM542.5,23.6 545.7,23.6 551.4,21.7 553.9,19.2 552.8,18.9 549.5,21.4 545.7,22.6ZM401,14.7 406.7,14.1 406.2,13.5 402.3,13.5ZM410,13.7 413.8,13.5 411.9,12.1 410,12.6ZM484.5,30.5 495,30.1 495.4,29.6 486.4,29.7ZM211.2,138.4 212.7,139.3 211.8,140.3 210.3,139.3Z" fill-rule="evenodd"/>
<clipPath id="landclip"><use href="#land" clip-rule="evenodd"/></clipPath>
<path id="wedge" d="M191.1,214 198.8,213.7 206.4,212.6 214.1,210.8 221.7,208.9 231.3,207.6 228.4,209.2 225.5,211.4 224.6,213.7 226.5,215.8 225.5,217.4 191.1,217.4Z" fill="#000"/>
<path id="coast" d="M196.1,92.9 194,91.6 191.9,91.3 190.2,92.2 188.3,92.8 186.9,92.4 185.6,91.3 184.3,89 184.1,86.9 184.4,84.9 184.6,82.5 185,81.2 182.5,79.5 179.7,79.3 176.6,79.5 175.5,79.9 175.3,78.4 175.5,76.6 176.2,75.1 177,72.8 178.1,69.9 177.2,69.4 174.9,69.4 171.5,70.3 171.1,71.7 171.3,73.3 169.3,74.6 166.7,74.8 163.6,75.3 161.5,74.4 160,73.1 159,71.2 157.9,69.2 157.1,67.1 157.3,64.4 158.1,61.7 158.1,59.8 158.6,58.3 160.6,57.1 163,55.8 165.3,55.1 168.2,55.4 170.3,56.3 173.2,56.4 173.6,55.4 172.6,54.4 174.9,54.1 176.8,54.3 179.1,54.1 180.8,54.8 182.9,54.8 184.3,55.4 186,57.1 186,58.9 187.5,60.8 188.8,62.5 190.4,62.9 190.9,61.2 190.2,58.1 188.8,55.4 188.5,53.6 189,51.8 190.8,50.5 192.9,49.1 195,48.4 196.9,47.3 198.8,46.4 199.7,45.8 199,43.8 199.7,42.2 200.5,40.9 200.9,40.3 202.4,39.4 202.6,38.4 204.5,37.8 206.8,37.2 209.1,36.8 210.3,36.5 208.7,35 209.9,33.9 212.2,33.3 215.6,32.5 217.9,31.8 220.8,31.5 217.9,33.4 220.8,33 222.7,32.6 226.5,31.9 229.4,31.3 228.4,29.6 226.5,30.5 224.6,31.1 222.1,31 220.8,30.5 220.2,29.4 218.9,28.4 221.1,27 216.9,26.6 212.2,27.9 214.1,26.5 217.9,25.4 223.6,25.3 229.4,25.4 234.1,23.9 237.6,23 237,21.5 234.1,20.4 230.3,19.5 227.5,18.7 226.1,17.4 223.6,16.3 221,14.4 219.8,15.6 215,16.3 211.8,15.8 211,14.8 207.4,13.6 203.6,12.6 199.5,12.6 195.7,12.4 194.8,13.7 196.1,14.7 195.5,16.4 197.6,17.2 197.6,18.6 196.1,19.4 193.1,20.4 193.2,22.2 192.1,23.7 190.2,24 188.3,23 186.7,22.2 186.9,20.6 181.6,19.5 176.6,18.7 174.3,17.9 170.5,17.5 167.2,17.4 164,15.8 163.2,14.6 165,13.6 167.4,12.6 170.7,12 170.5,11.4 175.1,11 177.8,10.6 179.5,9.5 181.6,9.2 185.4,9.3 188.3,8.9 187.7,8 185.4,7.1 181.6,6.9 179.7,7.8 176.8,8.3 173.6,7.1 170.9,7.6 169.2,6.9 166.3,7.1 163.8,5.4 159.6,7.6 156.7,8 152,8.1 148.1,8.1 143.4,7.6 137.6,7.5 134.8,8 127.1,8 123.7,7.3 118.5,7.1 111.8,6.7 106.1,6.6 103.2,7 99.4,6.5 94.6,6.8 88.9,7 85.1,7.1 81.2,7.3 76.5,6.9 70.7,6.5 65,6.5 59.3,6.3 54.5,6.3 50.7,6 44.7,5.8 41.1,6.1 37.3,6.3 33.4,6.8 30.6,7.3 26.4,7.3 26.8,7.8 31,8 34.4,8.7 30.2,9 26.8,9.3 22.9,9.8 26.4,10.6 30.6,10.7 35.4,10.8 36.3,11.6 31.5,11.8 29.1,12.3 26.8,13.2 28.7,14.2 33.4,14.7 34.4,15.9 38.2,16 42.1,15.9 43.4,17 40.7,18.2 37.3,18.9 33.4,19.6 29.1,20.4 32.5,20.1 37.3,19.5 42.1,18.4 44.9,17.4 48.7,16.4 50.7,15.4 54.5,15.1 53.9,14 57.3,13.5 58.3,14.7 61.2,14.7 64,14 67.9,14.6 71.7,14.7 75.5,14.9 79.3,15.5 83.1,16.4 86,17.2 87.9,17.9 90.8,19.3 93.7,20 95.2,20.9 96.5,22.1 99.4,23.2 100.3,24.4 104.2,25.3 107,26.2 108.9,26.9 109.3,28.1 108,27.9 105.7,27.6 106.8,29.6 107.2,31.4 106.8,33.4 106.1,35.1 106.7,36.5 106.8,38.4 107.6,40.6 109.9,42.4 111.1,44.2 112.8,45.9 113.5,47.3 116.6,48.1 118.5,48.8 120,50.4 121,52.3 122.3,53.8 124.2,55.1 125.8,56.9 125.8,58.6 128.4,60.3 129.6,62.7 130.9,64.3 133.4,66.4 134.9,66.4 134.2,64.8 132.5,64.1 131.3,61.7 129.8,58.9 128.3,56.8 127.1,54.4 125.2,52.3 124.6,51.6 128.1,52.8 130,55.6 132.3,58.4 134.9,60.6 136.7,62.7 139.1,64.4 141.4,66.7 142.6,69.4 142.2,71.5 144.3,73.9 147.2,75.3 150,76.4 152.9,77.7 155.8,78.8 159.6,79.9 162.5,79.1 164.4,79.1 167.2,81.5 169.2,83 171.1,83.2 173,83.9 175.8,84.5 176.8,85.1 177.8,86 179.3,87.5 180.2,88.6 180.1,90.1 181.6,90.9 182.5,91.4 184.3,93.1 185.6,93.9 187.9,94.1 190.2,95.2 190.9,94.7 190.2,93.7 192.1,92.6 193.8,93.3 194.6,94.3 195.2,95.8 195.9,97.1 196.1,99 196.5,101.9 195.7,103.8 193.8,105.1 193.1,106.6 191.1,108 190.8,110.1 189.4,111.6 190.6,113.7 191.3,114.5 190.6,116 188.8,117.7 189,120.2 191.3,121.9 193.1,124.8 194.6,128.2 196.7,132.3 198.4,135.6 200.3,138.6 205.5,141.2 207.8,142.8 209.7,144.1 210.1,147.9 209.3,153.2 209.3,156.7 207.6,161.8 207.2,165.9 207,169.2 205.7,172.8 203.9,175.7 203.4,178.1 203.2,181.4 202.2,184.6 204.1,186.3 201.7,188 199.5,189.6 201.1,191.5 199.7,193.4 201.1,195.6 203.6,197 207.4,198.1 210.3,199.2 215,200 217.5,199.2 219.4,198.9 216,198.1 213.1,196.5 211.2,196.2 213.3,196.2 211.8,194.9 212.4,193.7 214.6,192.2 218.3,190.6 215,188.7 216.6,187.2 218.9,187 220,184.9 221.3,183.8 222.5,183.4 219.8,182.8 219.6,181.4 223.6,181.5 225.2,180.6 225,178.4 227.5,178.3 232.2,177.5 234.1,176.6 235.7,174.8 234.5,173.6 232.2,171.5 232.4,170.6 234.7,171.4 237,172.2 239.1,172.2 241.2,171.2 242.4,170.1 244.1,168.4 247.1,165.8 249.1,162.9 251.2,161.1 251.2,158.2 251.5,156.5 253.6,155.1 257.3,153.5 259.9,152.3 263.8,152.1 265.7,150.5 266.4,148.4 268,146.3 269.1,142.8 269.7,139.1 269.5,135.1 271.4,133.2 273.3,130.4 275.6,127.8 277.2,125.1 277.5,123.1 276.8,120 275.2,119.1 272.2,118.3 269.7,116.4 266.6,114.9 262.8,114.5 259.4,114.3 258.8,112.4 255.2,111.4 252.3,110.9 249.4,109.7 247.5,109.1 248.5,107.6 246.6,103.8 245.4,101.5 243.1,99.2 240.8,98.4 237.2,98.3 234.7,98.1 233,96.5 231.1,94.5 229.4,93.1 227.5,92.6 226.1,90.7 224.6,89.6 222.3,89.2 219.4,90.3 217.5,89.4 214.5,89.4 213.5,88.8 211.2,87.7 209.9,86.7 209.7,87.9 207.6,88.8 207,88.6 206.4,87.7 206.8,86 204.9,86.9 202.2,88.1 200.1,89.2 199.4,91.4 198,92.9 196.9,93.9 196.1,92.9M405.8,52.7 408.1,52.9 409.4,52.6 410.6,50.8 411.1,49.7 411.9,48.4 412.7,47.3 412.5,45.6 412.9,44.8 413.2,44.2 411.9,44.2 410.4,43.9 409,44.8 406.7,45.1 405.2,44.4 402.7,43.8 400.8,44.8 398.5,43.9 396.8,43.6 396.2,42.4 394.7,41.6 395.3,40.6 393.9,39.9 394.1,39 394.3,38.2 392.8,38 390.9,37.8 389.3,38.1 387.8,38.2 387.2,39.1 388.6,40 387.6,40.7 389,41.3 390.1,41.8 389.9,42.5 388.2,42.2 388,43.2 387.6,44.2 386.9,44.4 385.9,43.9 385.3,43.2 384.4,42.4 385,41.6 383.8,40.9 382.9,39.9 381.9,39.1 381.1,38.5 381.3,37.7 381.1,36.4 379.8,35.7 378.1,34.8 375.6,34.1 373.9,33.4 372.9,32.5 371.8,31.8 370.2,31.9 370,31.1 367.9,31.4 367.6,32.3 367.8,33.2 368.9,33.7 370.4,34.8 371.8,36 373.7,36.4 375,36.5 374.4,37.1 376.9,37.8 379.4,38.8 379,39.4 376.5,38.5 375.8,39.6 376.7,40.6 375.8,41.5 374.8,42.2 374.1,41.8 374.4,40.9 375,40 374.1,39.1 372.7,38.7 371.8,38.1 370.8,37.8 369.9,37.2 368.1,36.9 366.6,36.1 365.3,35.5 364.3,34.8 363.7,34 363.2,33.3 361.6,33 360.1,33.3 358.6,33.7 357.4,34.1 355.9,34.7 354.2,34.4 352.7,34.3 350.9,34.3 350,35.1 350.2,36 349,36.8 347.5,37.4 345.8,37.8 345.2,38.4 344.1,39.3 343.5,40 344.4,40.9 343.1,41.6 342.7,42.7 341.4,43 340,44.1 337.7,44.1 335.6,44.1 334.1,44.5 333.3,45.1 332.6,44.5 331.8,43.9 330.7,43.3 329,43.6 327,43.6 327.2,42.2 327,41.3 326.1,41 326.1,40 326.8,38.8 327.4,37.5 327,36.2 326.5,35 327.8,34.3 329.3,33.9 331.6,34 333.9,34.1 336.8,34.3 339.3,34.3 340.6,34.3 341.4,33.4 341.8,32.1 341.8,30.7 340.2,29.7 339.3,29 337.4,28.5 335.4,28.3 335.1,27.6 337.4,27.1 339.3,27.4 341,27.2 341.6,26 343.7,26.5 344.6,26.1 346.5,25.5 347.1,24.5 348.8,24.3 350.4,23.9 351.7,23.3 352.7,22.7 353.2,22.1 354.8,21.6 357.2,21.5 359.1,21.3 360.5,20.9 361.1,20.4 360.5,19.6 359.7,19.2 359.5,18.2 360.3,17.6 362.4,17.3 364.3,16.9 364.1,17.5 363.7,18.2 364.9,18.4 363.5,18.8 362.8,19.4 363,20 363.5,20.6 365.1,20.9 367.2,20.7 368.9,20.5 370.8,20.9 373.7,20.7 376.2,20.2 378.5,20 379.6,20.5 381.5,20.5 383.8,19.9 384.6,19.2 384.2,18.4 385,17.7 386.3,17 388,17.5 389.9,17.7 390.7,16.7 389.2,16.2 389,15.5 391.3,15.2 394.7,15.1 397.6,15.2 400.4,14.8 402,14.8 399.5,14.5 397.6,14.2 394.7,14.3 391.8,14.5 388,14.8 386.1,14.4 385,13.7 385.1,12.6 384.6,11.9 386.9,11.3 389,10.8 391.1,10.3 392.6,9.9 391.1,9.6 388,9.6 385.7,9.9 384.8,10.3 383.2,11.1 381.3,11.5 379.4,11.9 377.7,12.6 377.1,13.3 377.1,14.1 379.4,14.5 380.2,15 378.5,15.6 376.2,16 375.6,17 375.4,18.1 374.2,18.6 372.1,18.6 371.2,19.4 368.9,19.4 368.7,18.8 367.9,18.4 367.8,17.8 366.8,17.2 366.4,16.3 365.5,15.7 364.5,15.2 363.9,15.5 362.4,15.6 360.1,16.4 357.4,16.6 355.3,16.5 354.6,15.8 354,15.2 353.6,14.3 353.4,13.5 354,12.8 356.1,12.4 358,11.9 360.5,11.5 362.6,11 364.7,10.4 367,9.9 368.5,9.2 370.4,8.6 372.5,8 374.2,7.6 376.5,7.2 379.2,6.9 381.9,6.5 385.1,6.4 388,6.2 391.3,6 394.7,6 397.6,6 400.8,6.2 403.3,6.4 406.2,6.8 410,7.1 413.8,7.3 417.6,7.7 421.5,8.3 422.6,8.9 420.9,9.3 417.8,9.5 413.8,9.3 410.6,9 408.1,9 409,9.9 410.4,10.7 413.8,10.9 415.7,11.3 417.6,10.8 420.5,10.7 421.5,10.3 423.4,9.6 426.2,9.2 428.5,9.1 428.2,8.5 427.8,7.7 431.6,7.7 432.9,8.1 434.8,8.3 437.7,8 441.5,7.7 446.3,7.4 448.2,7.8 452,7.6 455.9,7.3 457.8,7.7 460.3,7.3 459.9,6.7 464.5,6.9 467.9,7.1 471.2,7.7 473.1,7.6 475,7.8 475.9,7.3 474.4,6.9 472.1,6.9 471.7,6.3 473.1,5.7 475.9,5.1 476.9,4.8 480.7,4.8 483.2,5.2 482.6,6 483.6,7.3 483.2,8.3 485.5,8.7 487,7.6 486.4,6.7 485.1,5.8 487.4,5.2 490.3,5.4 494.1,5.1 497.9,4.9 498.9,4.5 509.4,4.2 510,3.7 514.2,3.5 519.9,3.3 525.6,3.3 531.4,3.1 537.1,2.9 543.4,2.5 547.6,2.7 549.5,3 556.2,2.9 560.8,3.2 561.6,3.5 559.1,4.1 554.3,4.2 558.1,4.4 563.9,4.4 570.5,4.5 577.2,4.8 582,4.4 586.8,4.5 590.2,4.9 591.6,5.5 594.4,6 597.3,5.5 604,5.6 609.7,5.7 611.6,5.1 615.5,5 622.2,5.2 629.8,5.4 631.7,5.7 635.5,6 641.3,6 646,6.1 649.9,6.6 652.7,6.9 657.5,6.8 663.3,6.9 667.1,7.3 669.9,6.7 674.7,6.7 680.5,6.7 685.2,7.1 688.1,7.3M688.1,10.2 685.2,10.6 682.4,12.4 676.6,13 670.9,14.2 663.3,14.7 657.5,14.9 655.6,16.1 653.7,16.8 656,18.5 653.7,19.9 649.9,21.8 647,22.9 643.6,24.4 642.2,22.6 641.5,19.8 642,17.9 644.1,16.8 646.6,16.6 649.9,15.3 653.5,14.4 656.6,13.3 649.9,13 644.1,13.2 638.4,15.2 632.7,15.5 627.9,15.3 622.2,15.3 615.5,15.6 612.6,16.8 608.8,18.2 605.9,20.4 610.7,20.7 614.3,21.7 613,23.8 612.2,26.9 608.8,30.1 605,32.8 602.1,34.4 598.3,35.1 595.4,34.8 593.9,35.8 592,37.7 588.7,39.4 587.8,40.3 589.5,41.3 591.2,43.6 591.4,45.9 589.7,46.7 586.8,47.3 585.5,47.2 585.8,45.1 586.4,43.6 584.9,42.4 583.4,42.1 583.5,39.9 581.8,39.3 578.2,38.7 575.7,40.7 577.6,38.5 575.3,38 573.4,39 572.1,40 569.6,40.4 568.8,41.3 570.5,42.7 572.1,43.3 574.8,42.4 578.2,43.2 575.3,44.4 572.5,45.9 571.9,47.3 574,48.6 575.3,50.7 577,52 576.3,53.4 577,54.9 576.3,57.3 574.4,58.9 572.8,61.2 570.5,63.8 568.6,65.3 565.8,66.9 562.3,68 560,68.5 557.2,69.4 555.3,69.9 554.7,71.5 553.7,69.4 551.4,69.2 549.5,69.6 547.8,71 546.3,73.3 547.4,75.7 549.5,78.2 551.8,80.6 553,83.9 552.8,87.3 551.1,88.6 548.6,89.7 547.8,91.4 544.9,93.1 544.4,91.3 543.6,89.7 541.9,89.2 540.7,87.3 539.6,86.2 537.1,85.4 536.9,83.9 535.4,84.1 535,86.4 533.7,89.9 535,92 535.8,93.9 536.1,95.8 537.7,96.4 539.4,97.7 541.1,99.2 541.7,101.3 541.7,104.2 543.2,106.8 541.9,107 540.2,105.7 537.9,104.2 536.5,102.1 536,100 535.8,98.1 534.8,96.9 532.3,94.3 531.9,92.4 532.5,89.6 532.5,86.7 531.6,83.9 530.8,80.4 529.8,77.7 527.5,78.4 526.2,79.7 524.5,79.3 524.3,76.6 523.7,74.2 521.8,72.2 520.5,70.8 519.9,69.4 519.5,67.8 517,68.5 515.1,68.8 513.2,69 510.3,69.4 510,71 507.5,72.6 505.6,74 503.5,76 501.4,78 499.4,79.5 497.5,80.6 497.2,83.6 497.5,85.6 496.6,88.1 496.6,89.9 495,91.8 493.5,92.8 492.2,94.1 490.5,92.6 489.7,90.5 488.9,88.1 487.4,85.4 486.4,82.5 485.1,80.1 484.2,77.5 483.4,74 483.2,71.7 483.2,70.3 482.1,68.7 480.5,70.4 478.8,70.6 476.3,68 478.4,67.1 475.6,66.2 474.4,65.3 472.9,65 471.7,63.2 471.2,62.5 468.3,62.7 465.4,62.9 462.2,63.1 459.1,62.5 456.4,62.2 453.6,61.7 452.8,60 451.7,59.6 450.1,60.3 447.8,60.5 445.9,59.8 444,58.8 442.1,57.9 441,56.1 439.6,54.6 437.7,53.9 436.8,54.9 435.8,55.6 436.6,57.3 438.3,59.3 439.8,60.6 440.2,62.4 441.1,63.8 441.9,61.3 442.7,63.1 442.7,64.4 445.4,64.8 448.2,64.3 450.1,62.5 451.3,61.3 451.9,60.8 451.9,63.4 453.4,65.1 455.9,65.7 458.4,67.6 457.2,69.6 455.9,71.3 454.5,72.4 454.3,74 452.2,74.8 449.9,76.4 449.2,77.5 445.4,78.6 443.8,80.1 439.6,81.2 437.1,83 433.9,84.3 430.1,85.3 428.2,85.6 427,85.4 426.6,84.3 425.9,81.9 425.7,79.9 425.3,77.9 423.8,75.9 422,73.1 419.9,71.2 418.8,69 418.4,67.3 417.3,65 415.5,63.2 414,61.5 412.1,58.8 410.8,57.8 410.8,55.6 410.2,56.9 409.5,58.5 408.1,57.1 406.2,54.9 406.6,56.4 408.1,58.4 409,60.3 410.2,62.4 411.5,64.4 412.3,66.2 413.8,68.1 415.2,70.3 415.3,73 417.6,75.7 419.2,79.3 420.5,80.6 422.8,82.1 424.9,84.3 426.8,86 426.4,87.5 428.5,89.6 431.6,89 434.8,88.2 437.7,88.1 440.6,87.1 442.1,87.1 441.5,89.6 440.6,92.4 438.7,96.2 436.4,100 433.9,103.2 431,105.7 427.2,108.4 424.3,111 422.4,113.3 420.9,114.9 419.7,117.7 418.6,120 419.2,122.9 419.5,125.7 420.1,128.2 421.5,130 421.5,133.2 421.7,136.9 420.1,140.3 415.7,142.6 412.9,145 410.6,146.6 411.3,149.7 411.9,152.3 410.9,154.9 407.1,156.5 406.7,158.4 406.4,160.9 404.8,162.6 402.9,164.9 400.4,166.9 397.6,168.8 394.7,170.4 391.8,170.8 389,170.6 386.1,171.1 382.3,172 380,171.2 379.2,170.4 378.5,168.8 377.5,165.9 376.2,163.4 375.4,161.9 373.7,159.2 372.5,155.8 371.6,151.4 369.9,148.2 367.9,145.2 366.6,141.9 367,139.3 367.8,136 370,132.3 369.9,130 369.1,127.2 367.9,123.8 367.4,121 367,119.1 365.3,117 363.2,114.9 361.8,112.4 361.8,109.5 362.2,107.6 362.8,104.7 362.4,102.4 361.1,101.9 360.3,100.9 357.6,101.1 355.5,101.3 354.6,100.2 353.2,98.1 350.7,97.3 347.9,97.5 346,98.1 343.5,98.8 340.4,100.4 338.3,99.8 335.4,99.6 332.6,100.2 329.7,101.1 327.8,100.4 324.9,98.4 322.5,96.5 320.2,95.2 318.8,93.3 318.2,91.4 316.3,89.9 315,88.6 312.7,86.7 311.9,84.5 311,81.9 311.9,80.1 312.7,78.4 313.1,75.7 312.7,73 311.7,71 311.6,69.4 312.9,67.4 313.5,65.5 315,63.8 316.1,61.9 316.9,60.6 318.6,58.9 320.2,58.1 323,57.1 324.9,55.6 325.5,53.9 325.3,52.6 326.3,50.7 328,49.4 330.3,48.6 331.4,47.8 332.2,46.4 332.8,45.5 333.9,45.3 335.4,46.4 338.3,46.2 339.8,46.5 341.8,45.9 344.1,45.3 346.5,44.4 349.8,43.9 352.8,43.8 356.1,43.5 359.3,43.8 362.4,43.2 363.7,43.6 365.1,43.6 364.1,44.5 364.9,45.6 364.1,47.5 363.4,48.6 365.5,49.5 367.9,50 369.9,50.2 373.3,51 373.9,52.3 376.5,53.1 379.4,54.1 381.5,53.9 382.5,52.5 382.3,51.3 384.2,50.2 387.1,50.2 388.6,51 390.9,51.6 392.2,52.1 394.7,52.3 397.6,52.9 399.5,53.3 401.8,52.5 403.3,52.1 405.8,52.7M0,7.3 3.8,7.6 9.6,8.3 15.3,8.8 19.7,9.5 17.2,9.9 14.3,10.8 10.5,10.5 6.7,10.1 2.9,9.9 0,10.2M204.5,2.3 214.1,1.6 225.5,1.1 242.7,1 259.9,0.7 281,0.7 296.3,0.8 305.8,1.1 313.5,1.3 307.7,2 308.7,2.8 305.8,3.7 303,4.8 301,6 297.2,6.9 291.5,7.6 282.9,7.8 277.2,9.1 271.4,9.7 267.6,10.7 264.7,12.8 261.9,14.7 258,14.4 252.3,13.5 248.5,11.9 246.6,10.7 243.7,9.5 241.8,8 246.6,7.3 240.8,6.3 243.7,5.7 238.9,5.1 236.1,4.2 232.2,3.5 225.5,3.2 216,3.3 208.3,2.8 204.5,2.3M225.7,9 221.7,10.3 219.2,11 220,11.8 214.1,12.4 209.3,12.1 202.6,10.8 196.9,10.8 195,10.3 201.7,9.5 204.5,8.6 200.7,7.8 195.9,6.7 190.2,6.6 182.5,6.5 174.9,6.3 173,5.7 178.7,5.1 181.6,4.5 191.1,4.4 198.8,4.9 206.4,5.7 212.2,6.4 216,7.1 216.9,8 222.7,8.5 225.7,9M191.1,3.2 200.7,2.4 209.3,1.8 223.6,1.2 225.5,0.9 210.3,0.8 191.1,0.8 172,1.2 162.5,1.7 160.6,2.4 166.3,3 172,3.1 168.2,3.5 179.7,4 191.1,4 191.1,3.2M152,6.6 144.3,7.3 128.1,7.1 119.5,6.7 116.6,5.8 120.4,5 130,4.8 137.6,4.7 145.3,5.1 150,5.7 152,6.6M105.1,5.4 109.9,5.8 114.7,5.7 115.6,4.5 108.9,4.1 104.2,4.5 105.1,5.4M155.8,5.4 158.6,5.4 159.6,4.5 153.9,4.3 150,4.9 155.8,5.4M162.5,5.4 166.3,5.1 170.1,4.3 162.5,4.2 162.5,5.4M142.4,3.7 133.8,3.9 120.4,4.1 122.3,3.1 133.8,3 142.4,3.3 142.4,3.7M156.7,3.7 152,3 160.6,2.8 156.7,3.7M179.7,11.1 188.3,11.1 190.8,11.3 183.5,12.3 177.8,11.4 179.7,11.1M302,11.2 298.2,10.4 301,9.9 298.2,9.8 301,9.2 305.8,9.4 309.6,9.3 314.4,9.1 316.3,9.6 318.1,10.1 316.3,10.8 312.5,11.3 308.3,11.6 303.9,11.3 302,11.2M365.1,2.2 370.8,1.7 380.4,1.5 395.7,1.6 386.1,2.3 378.5,3 370.8,2.7 365.1,2.2M443.4,5.7 451.1,6.2 455.9,6 451.1,4.8 458.7,3.5 475,2.8 464.5,3 453,3.5 447.3,4.5 443.4,5.7M525.6,2 535.2,1.8 544.7,2.2 539,1.5 525.6,1.3 525.6,2M605.9,3.5 615.5,3.8 628.8,3.6 621.2,3.2 607.8,3.3 605.9,3.5M433.9,1.5 449.2,1.6 462.6,1.3 454.9,1.1 439.6,1.3 433.9,1.5M0.2,5.7 4.8,5.8 2.9,5.6 0.2,5.7M333.2,25.5 336,25.1 337.6,24.9 341.2,24.8 344.6,24.6 346.7,24.2 346,23.5 347.3,22.6 346.9,22.2 344.6,22.1 344.4,21.5 343.7,20.9 341.9,20.2 341,19.3 339.8,18.8 338.3,18.7 339.1,18.4 340.2,17.7 340.6,17 338.1,16.9 336.2,17 337.9,16 334.5,16 334.1,16.6 333.2,17.4 333.2,18.2 333.5,18.7 333.3,19.5 334.3,20 335.6,19.9 337.4,19.9 337.6,20.5 338.3,21.1 338.1,21.7 336,21.7 335.3,22.3 336.2,22.9 334.7,23.3 334.1,23.6 336,23.7 337.7,23.9 337.2,24.2 335.8,24.2 334.5,25 333.2,25.5M332.6,23.2 332.2,22.1 332.4,21.1 333.3,20.6 332.8,19.9 331.6,19.6 329.5,19.5 328,19.8 327.6,20.6 325.1,20.7 324.9,21.5 326.5,21.8 325.1,22.5 324.2,23.3 325.5,23.8 328,23.6 330.7,23.1 332.6,23.2M367.8,42.1 369.7,41.8 373.9,41.6 372.9,43.6 371.8,43.9 368.1,42.7 367.8,42.1M360.1,40.6 362.4,40.4 362.8,37.8 361.6,37.4 359.7,37.8 360.1,39.3 360.1,40.6M360.5,37.1 362,37.1 362.2,35 360.5,35.7 360.5,37.1M389,46.2 394.3,46.4 390.9,46.7 389,46.2M405.8,46.9 409,46.9 410.2,45.6 407.1,46.1 405.8,46.9M365.1,19.6 368.1,19.2 367.4,18.6 365.1,18.9 365.1,19.6M594.3,48.4 595.2,47.6 597.5,46.1 599.2,45.9 601.1,45.8 603,45.6 604.2,45.5 605.5,43.5 606.5,42.8 606.5,43.9 608.4,43.2 610.3,42.1 611.1,40.6 611.6,39.4 611.5,38.2 612.2,37.4 614.1,37.1 614.5,38.4 615.5,39.9 614.7,40.9 613.6,41.6 613.4,43.6 612.8,45.1 613.2,45.8 611.6,46.7 610.1,46.4 609.4,47.2 606.9,47.3 605.5,47.8 604,48.9 602.7,48.4 602.5,47.3 600.6,47.3 598.3,47.8 596.7,48.4 594.3,48.4M592.1,49.2 593.5,48.4 594.4,48.8 595.8,49.4 595.2,52.3 594.4,53.1 592.9,52.8 592.9,50.7 592.1,50.2 592.1,49.2M597.3,49.4 598.8,49.5 601.5,48.6 601.1,48 599.2,47.8 598.1,48.3 597.3,49.4M611.6,36.9 613.6,36.7 614.5,35.5 618,36.2 620.2,34.8 622.3,34.4 620.2,33.4 617,32.5 614.9,31.5 614.7,33.2 614.3,34.4 612.2,34.4 611.6,35.5 611.6,36.9M615.5,30.7 616.8,29.9 618.3,30.2 617.4,28.8 616.6,27.5 619.3,26.9 617.8,25.4 618,23.8 617.8,22.3 617.2,20.6 615.8,20.6 616.4,22.1 614.9,23.2 615.7,25 615.5,27.5 615.1,29.4 615.5,30.7M573.6,66.7 574.8,68.5 575.3,68.3 576.3,66.2 577,63.9 576.3,62.7 574.8,63.9 573.8,65.5 573.6,66.7M551.6,73.5 554.3,71.9 556.2,72.8 554.3,75.1 551.8,74.8 551.6,73.5M574.4,74.8 575.7,74.6 577.6,74.8 577.8,77.3 576.5,79.5 576.7,81.4 578.4,82.7 580.9,83.4 581.4,85.6 579.7,84.9 578.2,83.8 576.3,83.4 574.8,82.5 574.6,81.5 573.4,80.2 573,78.8 574,78 574.4,74.8M577,96.2 578.8,94.7 580.5,94.7 581.4,93.7 583,92.4 583.9,90.9 585.1,92 586,95.6 585.3,97.5 583.7,98.8 581.6,97.7 580.9,95.6 578.8,95.8 577,96.2M582,85.8 584.1,86.7 583.4,89.9 582.6,90.5 581.6,88.6 582,85.8M577.2,86.9 579.5,88.6 580.1,92 578.2,90.7 577,89.4 577.2,86.9M568.1,93.7 570.5,91.4 572.5,88.6 572.7,89.7 570.7,92 568.4,94.3 568.1,93.7M574,83.9 576.3,84.5 575.7,86.2 574.2,85.8 574,83.9M552.4,106.3 553.5,105.7 555.3,106.3 556.6,104.9 560,103.4 561.9,100.7 564.2,100 565.8,98.1 567.3,96.4 569,97.3 570.7,98.3 571.9,99.6 570.2,101.1 569.2,102.3 569.2,104.9 571.3,107.6 569.4,108 568.6,111 567.1,113 566.2,117 563.1,117.2 561.2,115.6 558.1,116 556.2,115.2 554.7,115.1 554.3,112.6 553,110.7 552.4,108.6 552.4,106.3M526,98.8 528.5,99.6 530.6,99.6 531.9,101.3 534.8,103.4 536.1,105.3 538.1,106.1 540,107.4 541.9,109.5 542.5,111.4 543.8,113 545.7,114.3 546.7,115.6 546.3,118.1 546.3,120.6 544,120.8 541.9,118.9 539.6,117.2 537.7,114.9 536,111.8 534.6,109.3 533.3,107.4 532.5,105.7 530.8,104.4 529.3,102.4 527.5,100.9 526,98.8M545.1,122.5 546.8,120.8 548.6,121 551.1,121.5 552.4,122.5 555.1,122.7 556.2,121.7 559.3,122.7 562.7,124.4 562.9,126.1 560,125.3 557.2,125.3 554.3,124.9 551.4,124.4 548.6,123.8 546.7,123.4 545.1,122.5M562.9,124.9 565.2,125.5 564.2,126.3 562.9,124.9M565.8,125.3 567.1,125.3 566.5,126.5 565.8,125.3M567.3,125.7 569.6,125.1 571.5,125.5 570.5,126.3 567.7,126.6 567.3,125.7M573,125.7 576.3,125.3 579.2,125.3 578.2,126.1 574.4,126.3 573,125.7M571.5,127.6 574.9,128.2 573.8,129.1 571.5,127.6M580.3,129.1 582,127.2 584.9,125.7 587.4,125.5 585.8,126.5 583,127.6 581.1,129.3 580.3,129.1M572.3,120 572.7,117.2 572.5,116.2 571.1,114.9 572.1,112.4 573,109.7 573.8,108.4 575.1,107 578.2,107.6 581.4,107.6 583.2,106.6 582,108.8 579.5,108.8 576.5,108.6 574.4,108.9 573.6,110.9 575.1,112.2 576.5,111.4 578.8,111 579.9,111.4 577.8,112.6 576.1,113.9 577.2,115.2 578.2,117.2 579.5,118.9 578.6,120 577,118.5 576.1,117.2 575.1,115.2 574.2,114.9 574.2,118.3 574.2,120 572.3,120M587.8,106.1 588.7,105.3 589.9,106.8 588.7,108 590,108.8 588.7,110.1 587.8,110.7 587.9,108.6 587.6,107.2 587.8,106.1M588.9,115.1 591.6,114.9 594.1,116 592.5,116.2 589.7,116 588.9,115.1M584.9,115.6 587.2,115.8 586.4,116.8 584.9,116.4 584.9,115.6M594.4,112.2 596.4,110.3 599.2,110.9 600.6,111.6 600.7,114.9 603,116 605,113.7 607.4,112.4 609.7,113.3 613.2,114.5 615.5,115.4 618.3,116.4 620.4,117.2 622.7,119.4 624.1,120.6 626.2,121.3 626.6,122.5 625.4,123.6 627.3,125.5 629.4,126.8 630.4,128.5 632.3,129.3 629.8,129.3 626,128.7 623.5,126.3 620.4,124 618.1,125.1 617.8,127 615.8,127 613.6,126.8 611.5,124.9 609.4,125.3 607.8,125.5 609,123.4 608.4,122.1 607.6,119.8 605,118.3 602.5,117.9 599.4,116.8 597.9,117.3 596.4,115.1 598.6,114.1 596.7,113.7 594.8,112.6 594.4,112.2M627.5,120.2 630.8,120 633.6,118.9 635.2,117.7 634.2,120 631.7,121.3 628.3,121.2 627.5,120.2M632.3,114.5 634.6,115.8 636.5,118.1 635.7,118.5 633.6,116.4 632.3,114.5M639.6,119.1 642,121.9 640.9,122.3 639.7,120.2 639.6,119.1M649.1,127.2 651.4,128.2 650.3,128.3 649.1,127.2M651,125.3 652.7,127.6 652.2,127.8 651,125.3M647,124 649.5,125.5 648.9,125.7 647,124M662.5,137.3 663.6,138.8 663.6,139.7 662.7,139 662.5,137.3M665.2,140.3 665.9,142.1 665.5,143 664.8,141.2 665.2,140.3M657.5,147.3 660.4,149.1 663.3,151.1 662.3,150.9 658.5,148.6 657.5,147.3M682.9,142.4 685.4,142.3 684.9,143.9 682.9,143.5 682.9,142.4M685.8,140.4 687.9,141 686.8,141.4 685.8,140.4M562.1,150.2 561.4,152.3 561,154.9 560.8,157.2 562.3,158.2 563.1,161.8 563.9,163.4 564.4,165.9 565.2,168.4 564.1,170.1 563.9,171.2 566.7,172.3 569.6,172.3 572.5,171.4 576.3,170.4 580.1,170.6 581.6,169.2 583.9,168.2 587.8,167.9 590.6,167.1 594.4,166.7 597.3,167.5 600.2,168.8 602.5,171.5 603.6,172 604.6,170.4 606.3,169.2 607.4,168.5 607.1,170.6 606.7,172.3 608,172.3 608.8,172 608.4,173.3 610.9,174.2 611.3,175.9 612.8,176.9 614.7,177.5 618.3,178.1 621,176.8 622.2,177.8 623.7,178.6 625.6,177.2 627.5,176.6 630.6,176.2 630.9,174.2 632.3,172 633.2,170.4 634.6,168.8 635.9,166.7 636.7,164.8 637.6,162.3 636.9,159.2 636.7,157.2 635.5,155.8 633.2,153.7 631.9,151.6 629.8,151.1 628.3,148 626,146.1 623.7,145 623.1,142.4 622,139.7 621.8,137.7 619.3,136.6 618.3,134.2 617.4,131.9 616.4,129.8 615.5,131.3 614.7,134.2 614.5,137.9 613.6,140.6 612.4,142.6 610.3,142.1 607.8,140.8 605.5,139.5 603,137.9 603.6,135.6 605.1,134.2 605.7,132.7 604,132.3 601.1,132.3 598.3,131.3 596.9,130.8 595.4,132.5 593.1,133.4 592.1,135.1 591.6,137.3 589.7,137.7 588.3,136.6 586.4,135.6 584.5,136.8 582.6,138.4 581.1,140.3 579.5,142.1 577.8,142.4 577.2,144.3 575.3,146.3 572.5,147 570.5,147.7 567.7,148.2 565.8,148.8 563.5,150 562.1,150.2M620.6,180.9 624.1,181.5 627.5,181.2 626.9,184.5 624.8,185 621.8,183.2 620.6,180.9M674.1,171.4 677.6,173.7 680.3,176.2 685.2,176.5 684.1,178.7 682.2,179.3 679.1,182.2 678,181.8 678.5,179.8 676.2,178.9 677.8,176.9 677.2,174.7 674.1,171.4M674.1,180.6 677.2,182.1 676.2,183.4 674.1,185 671.3,186.4 670.1,188.2 667.6,189.1 662.3,188.3 663.3,186.8 666.1,185.6 669.9,184.2 671.9,182.5 674.1,180.6M438.3,132.3 439.6,134.9 440.6,138.4 438.9,141.5 438.1,144.3 436.8,147.9 435.4,151.4 434.1,155.6 432,156.3 430.1,156.7 428.2,155.6 427.4,153.2 427,150.2 427.8,148.8 428.9,146.6 428.5,144.3 428.2,141.9 429.1,140.1 432,139.3 433.9,137.5 435.4,136 436.6,134.7 438.3,132.3M496.8,90.9 498.1,91.6 499.3,93.3 500.4,95.2 500,97.1 498.1,98.3 497,97.3 496.6,95.2 496.6,93.3 496.8,90.9M181.8,68.7 183.5,67.3 186.4,66.5 189.6,66.5 192.5,67.8 195,68 196.9,69.4 199.4,70.3 202.2,71.5 201.7,72.1 199.5,72.2 195.9,72.2 196.1,71 194,69.4 190.2,68.8 187.3,68.3 184.4,68.5 181.8,68.7M201.8,74.9 203.9,72.6 205.9,72.2 209.3,72.4 211.6,73.5 213.3,74.6 211.8,74.9 209.3,75.3 207.8,76.4 205.5,75.5 201.8,74.9M194.2,74.9 196.9,74.8 198.4,75.7 195.9,76 194.2,74.9M215.4,74.8 218.7,74.9 218.3,75.7 215.6,75.7 215.4,74.8M194.6,62.9 195.7,64.6 195.3,65.3 194.2,63.9 194.6,62.9M230.5,28.6 233.4,26.2 235.5,24.2 238,23.7 237.2,25 239.9,26.1 241.8,26.5 242.4,28.1 243.3,28.8 242.7,29.8 240.8,29.4 239.9,28.9 238,29.4 236.6,28.6 230.5,28.6M98.8,24.6 101.3,25.1 104.2,25.7 108.2,27.6 105.5,27.4 102.3,26.4 98.8,24.6M89.6,20.8 91.7,21.3 93.3,23 91.2,22.4 89.6,20.8M205.5,211.6 213.1,212.4 209.3,214 200.7,213.4 205.5,211.6M147.2,213.6 158.6,213.6 156.7,214 149.1,214 147.2,213.6M48.7,17.7 52.8,17.2 50.7,16.6 48.7,17.7M46.1,71.7 47.8,72.6 46.6,74 45.9,73 46.1,71.7M44.7,70.3 45.9,70.8 45.1,71 44.7,70.3M41.5,69.2 42.6,69.7 41.9,69.7 41.5,69.2M38.6,68.1 39.6,68.3 39,68.7 38.6,68.1M226.9,195 231.3,195 233.8,195.3 232.2,196 228.4,195.8 226.9,195M475.6,192.2 478.8,192.3 476.9,193 475.6,192.2M0,216.8 19.1,216.8 30.6,216.6 42.1,215.9 57.3,215.6 76.5,215.1 95.6,214.8 114.7,214.6 133.8,214.6 152.9,214 172,214 187.3,213.8 195,213.7 202.6,212.7 210.3,211.4 216,209.9 221.7,208.8 228.4,207.8 235.1,207.3 232.2,208.4 229.4,209.6 226.5,211.4 224.6,213.1 225.5,214.5 227.5,215.5 225.5,216.1 238.9,216.6 258,216.7 275.2,216.5 286.7,215.9 296.3,215.2 305.8,214.5 315.4,214 324.9,213.2 334.5,212.9 344.1,212.6 353.6,212.6 363.2,212.4 372.7,212 382.3,211.9 391.8,212.1 401.4,211.8 410.9,211.5 420.5,211.2 430.1,210.5 439.6,209.9 449.2,209.3 458.7,209.9 468.3,210.2 473.1,211.6 477.8,211.2 483.6,211.4 489.3,211.3 493.1,211 500.8,210 512.3,209.4 519.9,209.2 527.5,209.1 535.2,208.9 544.7,208.8 554.3,209.1 563.9,209.6 573.4,209.6 583,209.4 592.5,209.1 602.1,209.1 611.6,209.5 621.2,210.1 630.8,210.9 640.3,211.3 649.9,211.9 659.4,212.4 669,213.4 670.9,214 667.1,214.5 661.3,215 656.6,215.4 657.5,216.1 663.3,216.7 672.8,216.8 688.1,216.8M433.9,32.8 437.7,30.1 441.5,29.4 445.4,29.7 445.4,31.7 441.5,32.8 442.1,34.5 444.8,35.5 445.2,37.7 447.3,37.8 446.3,40.2 447.1,43.2 441.5,44.1 437.7,42.8 437.5,41.3 438.7,38.8 436.9,36.5 434.8,34.8 434.6,33.4ZM396.6,35.5 397.6,34.1 398.9,33 400.8,31.7 402.9,30.1 404.6,29.9 407.1,30.7 406.2,31.7 408.1,32.8 410,32.6 411.9,31.9 413.8,31.7 415.7,32.6 417.6,33 419.9,34.1 423.4,36.9 420.5,37.7 417.6,37.8 413.8,37.2 410.9,36.2 407.1,36.4 404.3,37.4 399.7,37.4 397.6,36.8Z" fill="none" stroke="#000" stroke-width="3.0" stroke-linejoin="round" stroke-linecap="round"/>
<path id="borders" d="M108.9,26.9 162.1,26.9 162.1,26.4 162.9,26.5 165.3,27.4 168.2,27.7 172.8,28.1 175.1,27.7 181.8,29.6 183.3,30.1 184.4,30.7 186.4,31.7 187.1,34 186.4,35.4 185.2,36.2 188.7,36 192.7,35.4 193.1,34.4 195,34 197.3,34 198.2,33.2 200.9,32.1 207.4,32.1 208.7,31.5 210.3,29.8 211.8,28.9 213.7,29 214.5,29.3 214.5,31.1 215.8,31.9M74.5,6.9 74.5,14.4 78.4,14.7 81.2,15.6 85.1,14.9 88.9,16.2 93.7,18.7 95.6,19.5M120.2,50.7 124.8,50.4 124.6,50.7 131.9,52.6 137.2,52.6 137.2,51.8 140.5,51.8 143.4,53.8 144.3,55.4 147,56.4 148.3,55.1 150.2,55.1 152.1,57.6 153.9,58.9 154.6,60.8 157.7,61.7 158.3,61.7M167.8,82.1 167.8,80.6 169.2,79.1 171.3,79.1 171.3,76.9 170.1,76.9 170.1,76 173.7,76 175.3,74.8M173.7,76 173.6,79.5 175.5,79.9M171.8,83.6 173.2,82.3 173.7,81.7 173.6,79.5M173.7,81.7 175.8,83.2 176.2,84.1M177.2,84.9 179.7,83.2 181.6,82.1 185,81.2M180.2,88.4 182.5,88.6 184.1,88.8M185.6,91.3 185.8,93.7M196.1,92.9 195.2,95.8M206.4,87.7 205.7,88.4 204.7,89.7 204.5,91.4 205.7,93.5 205.7,95.4 210.1,96.2 211.4,97.9 214.6,97.7 215.4,99 214.5,100.9 215.4,102.8 214.5,104.2 216,106.3 216.2,107.2M216.2,107.2 218.9,108 221.3,106.6 222.9,105.3 221.7,104.7 221,102.3 224,101.9 227.5,100.9 228,99.6M228,99.6 226.7,98.3 227.1,96.7 228.8,96.2 229.4,93.3M228,99.6 229.4,100 229.7,102.6 230.3,105.7 232.2,107 234.7,105.9 236.1,105.9M236.1,105.9 233.2,101.9 234.9,98.1M240.8,98.6 240.1,101.5 240.8,102.6 240.1,105.3M236.1,105.9 238.9,104.7 240.1,105.3M240.1,105.3 242.9,105.3 245.2,101.5M216.2,107.2 211.4,107.4 210.6,106.3 211.8,108.4 210.3,108.6 210.3,109.9 211.4,111.6 210.4,117.5M210.4,117.5 208.7,116.8 204.7,114.1 203.4,111.8 200.3,109.7M200.3,109.7 198.2,108.8 195.9,108.8 193.4,106.8M200.3,109.7 199.5,112.6 196.9,115.2 194.2,116.2 193.8,118.1 192.7,118.9 190.6,116M210.4,117.5 208.3,118.1 204.7,119.6 202.8,123.4 204.1,126.6 205.7,127.6 209.1,127.6 209.3,130.4 211,130.3M211,130.3 212.7,133.4 212.2,136.9 211.4,138.8 212,140.3 211,142.6 209.5,144M211,142.6 212.2,144.4 213.1,148.6 214.5,152M211,130.3 213.5,130.4 216.9,128.3 219,128.2 219.2,131.3 221.7,133.2 225.5,135.3 228.4,135.6 229,138 232.6,140.3 233,142.4 234.1,143.7 232.8,146.8M232.8,146.8 231.1,145.9 226.1,146.3 225,147.9 224.2,150.9M224.2,150.9 221,152 219.8,150.7 217.3,150.2 215.8,151.8 214.5,152M214.5,152 213.7,154.9 213.1,157.9 212.2,160.1 210.8,164.3 210.3,169.2 209.5,173.9 208.2,176.3 207.6,179.9 207,182.8 206.8,185.6 207.4,187.6 205.9,190.3 205.5,192.2 203.9,194 206,195.5 211.2,195.9M212.9,196.5 212.9,199.1M224.2,150.9 227.5,153.2 230.3,154.9 233.2,156.7 234,159.7 237.2,159.7 239.7,156.8M239.7,156.8 240.3,154.1 238,151.6 236.1,150.9 233.4,150.7 232.8,146.8M239.7,156.8 241.4,157.7 241.2,159.7 237.8,161.1 234,164.6M234,164.6 233,167.5 232.4,170.6M234,164.6 237,165.8 238.5,166.4 241.2,167.5 242.4,168.7 242,170.3M340.8,46.7 340.6,48.3 340.8,49.9 339.8,51 337.2,52.1 334.5,54.8 332.2,55.3 327.4,56.9M327.4,58.6 318.8,58.6M327.4,56.9 327.4,59.3 327.4,61.5 321.1,61.5 321.1,65.8 319.2,66.7 319.2,69.7 311.6,69.7M327.4,59.3 334.7,63.2M334.7,63.2 331.6,63.4 333.5,78.8 325.5,80.6 322.3,80.4 320.7,81.9M320.7,81.9 317.3,78.2 312.7,78.6M334.7,63.2 346.3,70.3 350.2,73.9 352.3,73.5M352.3,73.5 354.9,72.8 360.5,69.2 367,65.8M367,65.8 366,64.3 363.7,64.3 363,62.5 362,61.2 363,59.3 362.8,55.6 362.2,54.3M362.2,54.4 361.3,52.3 358.8,49.5 359.9,47.3 360.1,45.9 360.5,43.8M366,49.7 363.7,52.1 363,53.9 362.2,54.4M367,65.8 371.2,67.4 372.7,66.7M372.7,66.7 389.9,73M389.9,73 389.9,72.1 391.8,72.1 391.8,68.5M391.8,68.5 391.8,54.8 392.2,52.1M391.8,68.5 414.6,68.5M352.3,73.5 352.1,77.7 350.9,80.2 346,81.2 344.8,81.4M344.8,81.4 344.4,83 346,84.9 348.3,85.6M348.3,85.6 350.9,87.3M350.9,87.3 352.7,83.6 357,84.7 361.3,85.3 365.1,84.3 367.6,84.7 370,83.6M372.7,66.7 373.7,70.3 374.4,71.5 373.5,78.4 370.6,82.1 370,83.6M389.9,73 389.9,79.9 388,80.1 387.1,82.8 386.3,84.9 387.8,87.9 387.6,88.8M387.6,88.8 382.3,92.4 380,92.6 376.5,94.7 373.7,95.2M373.7,95.2 372.7,92.4 373.5,90.5 371.6,86.7 371,84.9M371,84.9 371.6,88.1 369.5,90.3 368.5,92.9 366.6,96.2 364.1,96.2 362.8,97.1 360.9,98.8 360.3,100.7M350.9,87.3 350.9,90.5 349.2,92.4 349.2,97.5M345.8,88.6 347.1,92.4 347.1,97.7M344.1,88.6 345,92.4 345,95.2 346.3,97.9M338.7,91.3 339.3,93.9 337.9,97.7 338.1,99.8M333.7,89.7 333.7,87.1 335.6,85.4 336.4,83.9 340.2,82.1 344.8,81.4M333.7,89.7 338.3,90.7 338.7,91.3 338.7,88.6 344.1,88.6 345.8,88.6 348.3,87.3 348.3,85.6M320.7,81.9 322.3,86 323.6,86.9 326.8,86.6 328.2,88.6 329,89.9 331.4,89.6 333.7,89.7M322.3,86 317.9,85.6 312.1,86M311.9,83.8 317.7,83.9 317.7,84.3 312.1,84.7M317.9,85.6 317.9,87.1 315.4,88.8M318.6,92.4 322.6,90.5 324.4,93.3 326.8,95.4 328.6,93.7 328.4,91.3 329,89.9M324.4,93.3 322.3,96.4M328,95 327.8,97.1 329.5,98.3 329.7,101.1M362.8,105.1 365.6,105.1 369.5,105.3 374.6,105.7M362.8,107.6 365.6,107.6 365.6,105.1M373.7,95.2 372,98.3 371.8,100.5 372.7,101.9 374.6,105.7M374.6,105.7 375.6,102.8 379.4,102.6M379.4,102.6 383.2,101.1 387.1,101.5 390.9,99.8 396.4,99.8M387.6,88.8 389.7,93.1 392,94.7 394.5,96.9 396.4,99.8M389.7,93.1 393.4,89.7 395.7,91.3 402.9,91.1 405.2,86.4 407.5,86.4 409,91.4M409,91.4 409.2,93.1 407.1,94.7 411.5,99.2M411.5,99.2 409,101.5 407.1,102.3 402.9,102.8M396.4,99.8 398.3,101.3 400.4,100.5 402.9,102.8M413.8,82.5 414.8,77.5 417.4,75.7M409,91.4 409.6,89.4 411.5,86.7 413.1,85.4 413.8,82.5M413.8,82.5 416.5,81.4 419.2,82.1 420.5,82.1 423.8,84.7 425.1,85.8M425.1,85.8 423.9,88.4 425.9,88.8 426.8,88.6M425.9,88.8 428.2,92.4 435.4,94.3 429.9,100.2 426.2,101.5 424.3,101.9M424.3,101.9 422.4,102.1 419.5,102.8 416.7,102.6 412.9,100.9 411.5,99.2M424.3,101.9 422.4,104.2 422.4,111.2 423.6,112.8M410.9,100.7 410.9,106.5 409,108.6 408.8,111.4M408.8,111.4 415.7,116 419,118.5M402.9,102.8 403.7,105.1 401.6,107.6 400.8,112.2M400.8,111.4 408.8,111.4M399.5,112.4 402.3,111.6 402.9,113.9 402.3,116.8 400.4,117.9 399.5,114.9 399.5,112.4M400.2,118.1 400.4,121.5 402.5,125.1M402.5,125.1 399.3,125.7 398.9,129.5 398.3,131.9 399.5,133.2 401,132.7 400.6,134.7 398.1,133 396.2,132.3 392.6,131 389.9,130.4M389.9,130.4 386.7,130.4 386.1,128 385.7,123.4 382.3,122.9 381.1,124.8 378.5,124.9 376.5,123.8 374.6,121 367.4,121M379.4,102.6 378.5,105.7 377.5,110.5 375.6,113.3 373.7,117.2 370.8,118.7 367.9,119.1M365.6,105.1 368.9,106.8 371.2,106.8 370.8,110.5 371.6,113.9 367.9,113.9 366,115.6 365.3,117M389.9,130.4 389.9,134.2 386.1,134.2 386.1,140.1 388.4,142.4M366.6,141.9 369.9,141.5 379.4,142.3 384.2,143.4 388.4,142.4M388.4,142.4 392.2,143 394.7,142.6 397.6,140.6 400.4,139.7 402.2,139M384.2,143.9 384.2,150.5 382.3,150.5 382.3,155.5M382.3,155.5 382.3,161.6 375.6,161.9M382.3,155.5 383.8,158.9 387.1,157.5 389.9,156.8 393.4,155.5 395.7,153.4 400.1,150.9M392.2,143 393.7,146.1 396.6,147.9 397.6,149.7 400.1,150.9M400.1,150.9 403.9,151.2 406.2,148.8 406.9,144.3 407.1,141.5 406.9,140.3 402.2,139M402.2,139 401.8,137.7 406.7,135.3M406.9,127.4 403.3,125.9 402.5,125.1M406.9,127.4 408.7,128 410,131.3 410.2,136 411.5,136.9 412.3,139.7 411.1,141.5 409.6,139.3 407.7,136.6 406.6,135.3 407.7,132.3 407.1,127.6M421.3,129.5 416.7,131 410.2,131.3M403.9,151.2 405.2,154.9 405,157.4 406.9,159.1M395.7,163.8 398.5,161.9 400.2,163.1 399.5,164.3 397.6,165.3 395.7,164.1 395.7,163.8M409.4,52.6 410.8,55.6M410.9,55.8 413.8,55.6 416.7,53.9 414.8,52.3 418.6,51.5M418.6,51.5 418.2,49.2M410.9,55.6 411.9,52.3 412.1,50.4M412.1,50.4 414.6,50.7 418.2,49.2M412.7,47.3 414,48 412.7,49.4 411.1,49.7M418.2,49.2 422.4,47.6 423,45.8 425.1,43.5M412.9,45.5 414.2,43.9 417.1,43.8 421.7,43.5 425.1,43.5M425.1,43.5 428.7,43.6 429.7,43.3M429.7,43.3 430.8,45.3 432.2,46.5 431.8,48.3 433.5,49.7 435.4,51.5 435.2,53.1 435.8,53.9 436.8,54.9M418.6,51.5 422.4,52.8 429.5,56.1 432.9,56.3 435.2,57.3 436.6,57.3M432.9,56.3 435.6,54.9M425.9,78.6 428.2,76.8 432.7,77.1 434.8,77.5 437.3,75.1 443.4,73.9M443.4,73.9 449.2,72.1 450.5,68.5 449.6,67.3 444.6,66.9 442.7,64.4M443.4,73.9 445.5,78.2M449.6,67.3 451.3,63.8M394.3,38.2 394.9,37.2 394.3,36.7 397.6,36.2M423.6,36.9 427.4,37.5 427.6,39 429.3,39.4 429.7,43.3M429.7,39.6 432.9,40.7 435.6,39.7 436.6,41.2 437.5,41.5M420.5,34.3 425.3,34.5 428.2,35.2 432,36.4 433.1,36.5 436.9,36.5M433.1,37.4 430.1,37.2 427.2,37.5M430.1,37.2 431.2,38.8 432.9,40.7M447.1,43.2 449.2,42.1 453.6,42.1 456.8,43 460.6,44.2M460.6,44.2 459.7,47.5 460.6,52.3 460.5,55.1M460.5,55.1 463.5,55.8 465,59.1 464.1,60 461.8,62.9M460.5,55.1 466.4,55.6 471.2,54.9 473.1,52.3 476.5,51.6 478.8,49.1 480.1,47.6 480.7,45.9 480.7,44.8 486.4,43.6M460.6,44.2 463.5,46.2 467.3,44.7 471.2,43 474,43.6 476.9,42.8 480.7,42.2 483.6,42.8 487.2,43.3M474.4,65.5 476.9,64.4 479.8,64.3 478.4,62 478.2,58.6 481.5,58.1 484.5,54.9 486.6,53.1 486.6,50.5 485.5,49.2 486.4,47.5 492.8,45.9M492.8,45.9 495,47.8 494.5,50.7 495.4,52.5 497.5,54.1 499.1,54.4 503.3,55.6 506.5,57.1 509.4,58.3 512.4,58.3 514,59.3 516.1,57.8 520.1,60 523.7,58.6 527.5,56.6 530,57.6M497.2,56.8 499.1,57.4 502.7,59.1 506.5,60 512.4,60.6M513.6,60.8 515.7,61.5 520.7,63.2 519.7,65 520.5,65.8 521,69.7M513.6,60.8 512.4,64.1 513.8,66.2 514.4,68.7M530,57.6 527.5,59.3 525.6,61.5 524.7,64.1 522.8,65.8 522.2,68.1 521,69.7M530,57.6 532.3,59.8 532.7,62.4 530.8,65 534.2,68.3 535.4,69.4M535.4,69.4 536.1,71.5M536.1,71.5 531,73 530.4,75.7 532.5,78.8 532.3,82.1 533.5,83.4 532.3,86.7 532.5,90.5M536.1,71.5 537.5,72.8 537.1,76 539,75.7 541.9,75.1 544.2,76.6 545.7,79.7 545.1,82.5M545.1,82.5 540.9,82.3 540,83.9 540.7,87.3M539.2,67.8 540.9,69.4 542.8,70.6 544.7,73.9 547.6,77.5 549.5,80.2 549.5,81.9M549.5,81.9 549.7,85.8 547.2,88.2 543.8,89.7M545.1,82.5 547.6,82.1 549.5,81.9M550.5,69.4 548,67.1 545.7,66.4 541.9,67.3 539.2,67.8 538.2,69.9 535.4,69.4M536,97.3 537.1,98.1 539.2,97.7M492.8,45.9 489.3,44.4 487.2,43.3 487.4,40.6 487.4,39.9 489.3,38.5 494.1,37.7 497.3,36.1M497.3,36.1 497.5,34.8 497.9,32.8 497,32.1 501.7,31.5 501.4,29.9 502.7,29.2 507.5,29.3 508.4,27.5 510.9,26.7M497.3,36.1 495,35.1 487.4,35 484.5,35.7 480.1,36 477.8,36.9 475,38 471.2,36.4 470.2,34.8 468.1,33.9 460.6,32.9 455.9,31.3 451.1,32.1 451.1,37.2 449.2,37.2 445.4,36M451.1,37.2 454.9,35.8 458.7,36.2 460.6,37.4 462.6,39.1 466.4,40.7 471.2,43M471.2,43 473.6,43.3 474,40.9 475,39.1 477.8,36.9M477.8,36.9 479.8,38.8 483.6,39.1 484.5,39.9 487.4,39.9M475,39.9 477.8,39.1 479.8,38.8M437.7,30.2 435.8,28.4 433.5,27.5 435.8,26.2 439.6,23.8 445.4,23.9 450.5,24.9 455.5,24.3 460.6,24.6 461.6,23.2 460.6,22.1 462.6,21 468.3,20.2 474,19.6 478.8,19.7 483.6,20.9 489.3,20.9 492.2,22.1 497,24.6 502.7,24.4 506.5,25.6 510.9,26.7M510.9,26.7 515.1,25.9 519.9,25 524.7,25.6 530.4,25.9 531.9,23.8 535.2,23.6 539.6,25 543.8,25.3 548.2,25.3 550.5,26.2 555.3,26.6 561.9,25.4 567.1,25.7M510.9,26.7 513.8,28.1 517,29.4 518,31.4 522.8,32.1 526.6,33 528.5,35.2 535.2,35.4 543.8,36.5 548.6,35.5 554.3,35.4 557.6,33.9 557.2,32.1 561.9,31.7 565.8,30.1 569.6,29.8 573,29.7 568.6,28.6 565.8,28.4 564.8,27.9 567.1,25.7M567.1,25.7 569.2,26.2 571.9,25.4 573.8,23.3 575.3,21.7 580.3,21.5 583.9,21.9 587.8,25.9 593.5,27 597.3,28.5 601.1,27.7 602.1,27.5 600,30.7 598.3,32.1 595.4,32.3 594.8,34.3 593.7,35.7M593.7,35.7 591.6,35.7 588.7,36.9 585.8,36.8 583,38.5 581.6,39.3M585.1,42.5 587.8,41.6 589.3,41.2M417.1,29.3 420.5,28.1 419.9,26.9 416.7,25.7 411.9,25.1 409.4,24 407.1,22.9 404.8,23.1M404.8,23.1 404.3,22.1 406.2,21.5 402.9,20 401.4,18.8 398,18.5M398,18.5 397,17.5 396.6,16.6 397.6,15.3M397.2,14.2 400.4,13.3 403.3,12.4 401.4,11.3 401.4,10.3 399.5,9.5 401.2,8.2 398.5,7.6 398.9,7.2 400.4,6.9 402.3,6.7M389.2,23.7 392.8,23.3 397.6,23.7 402.3,24 404.8,23.1M389.2,23.7 389.9,25 387.2,26.7M387.2,26.7 386.3,27.6 388,28.1 391.6,28.5 394.9,27.9 398,28 399.9,28.9 401.4,30.2 400.6,31.5M394.9,27.9 396.6,28.8 398,30.7 398,31.4M389.2,23.7 389,22.6 389.7,21.8 392.8,20.7 394.9,19 398,18.5M389,20.9 387.1,20.6 381.5,20.5M384.2,18.6 391.8,18.5 394.9,19M390.5,16.8 396.4,17.2M384.8,19.6 387.4,20.5M371.2,21 371.6,22.5 372.1,23.2 372.7,24.3M372.7,24.3 375.6,25.1 378.5,25.6 381.3,26.1 384.2,26.4 387.2,26.7M360.7,19.9 363,20M357.8,21.7 357.4,23 355.5,23.5 355.7,24.5 356.3,25.3 355.9,26.2M356.3,26.6 359.7,26.9 358.6,28.6M358.6,28.6 362.2,28.6M362.6,28.8 367.6,28.5 368.9,28.8 370,27.5M370,27.5 367.9,26.2 367.4,25.3 370.8,24.5 372.7,24.3M350.5,23.9 353.6,23.8 355.1,24.3 355.7,24.5M348.8,24.3 351.7,25.3 353.2,25.6 355.1,26.2 355.9,26.2M358.6,28.6 357,29 355.5,30.3 357.4,30.9 356.9,32.1 357.4,33.2 358.4,33.7M340.6,34.3 344.1,35.2 346.9,35.5 350.2,35.7M328.4,36.1 331.6,36.7 330.9,37.7 330.7,39.9 329.7,41.3 330.7,42.1 329.9,43.3M357.4,30.9 359.3,30.7 361.3,30.9 363.2,30.3 364.1,29.6M362.2,28.8 364.1,29.6M364.1,29.6 367,29.4 370.2,30.1 370,31.1M370,27.5 372.7,26.9 376.5,27.4 376.7,28.5 375.6,29.6 372.7,29.9 370.2,30.1M376.5,27.4 380,26.2M376.7,28.1 380,28.4 383.2,27.5 386.3,27.6M386.3,27.6 385.1,29.7 382.9,30.6 380,30.9 376.5,30.7 375.6,30.1M382.9,30.6 385.1,31.8 387.1,32.8 389.9,33.7 393.7,33.6 395.7,33.3 398.7,33.7M387.1,33.2 386.9,34.8 388,36.7 389,37.1 391.8,37.2 394.3,36.7 397.6,36.2M382.3,39.6 384.2,38.2 384.2,37.8 387.1,37.5 388,37.2M374.2,31.8 380.4,32.2 381.3,34.1 379.4,35.5 377.5,34.8 374.6,33.2 374.2,31.8M370,31.4 373.7,31 375.6,30.2M380.4,32.2 380.9,34.8 383.2,36 385.1,36 386.9,35.8M381.1,36.4 382.3,35.5 383.4,36.4 383.2,37.8 384.2,38.2M366.8,15.3 367.9,13.7 367.4,11.9 370.8,10.7 373.7,9.5 376.5,8.3 379.4,7.6 382.7,7.3M382.7,7.3 386.1,7.5 390.9,7.6 393.7,6.7 398.5,7.3M382.7,7.3 387.1,7.7 389.5,8.7 389.9,9.6M553.5,105.7 556.2,107.2 559.1,106.6 562.9,106.6 564.8,103.8 565.8,101.9 568.8,101.5M613.6,114.5 613.6,126.8" fill="none" stroke="#000" stroke-width="1.35" stroke-linejoin="round"/>
<path id="grid" d="M0,204.4H688.1M0,164.3H688.1M0,109.5H688.1M0,54.8H688.1M0,14.7H688.1M114.7,0V219M229.4,0V219M344.1,0V219M458.7,0V219M573.4,0V219" fill="none" stroke="#f4f4f4" stroke-width="1" stroke-dasharray="3.5 2.5"/>
<filter id="nz0" x="0" y="0" width="688.1" height="219" filterUnits="userSpaceOnUse" color-interpolation-filters="sRGB">
<feTurbulence type="fractalNoise" baseFrequency="0.045" numOctaves="3" seed="11" result="t"/>
<feColorMatrix in="t" type="matrix" values="1 0 0 0 0  1 0 0 0 0  1 0 0 0 0  0 0 0 0 1" result="g0"/>
<feGaussianBlur in="g0" stdDeviation="0.6" result="g"/>
<feComponentTransfer in="g" result="u"><feFuncR type="table" tableValues="0.0000 0.0000 0.0000 0.0000 0.0001 0.0002 0.0008 0.0019 0.0048 0.0098 0.0180 0.0335 0.0531 0.0785 0.1168 0.1576 0.2145 0.2709 0.3355 0.4198 0.4925 0.5786 0.6637 0.7290 0.7946 0.8421 0.8822 0.9204 0.9458 0.9655 0.9813 0.9897 0.9956 0.9981 0.9993 0.9998 1.0000 1.0000 1.0000 1.0000 1.0000"/><feFuncG type="table" tableValues="0.0000 0.0000 0.0000 0.0000 0.0001 0.0002 0.0008 0.0019 0.0048 0.0098 0.0180 0.0335 0.0531 0.0785 0.1168 0.1576 0.2145 0.2709 0.3355 0.4198 0.4925 0.5786 0.6637 0.7290 0.7946 0.8421 0.8822 0.9204 0.9458 0.9655 0.9813 0.9897 0.9956 0.9981 0.9993 0.9998 1.0000 1.0000 1.0000 1.0000 1.0000"/><feFuncB type="table" tableValues="0.0000 0.0000 0.0000 0.0000 0.0001 0.0002 0.0008 0.0019 0.0048 0.0098 0.0180 0.0335 0.0531 0.0785 0.1168 0.1576 0.2145 0.2709 0.3355 0.4198 0.4925 0.5786 0.6637 0.7290 0.7946 0.8421 0.8822 0.9204 0.9458 0.9655 0.9813 0.9897 0.9956 0.9981 0.9993 0.9998 1.0000 1.0000 1.0000 1.0000 1.0000"/></feComponentTransfer>
<feComponentTransfer in="u" result="q"><feFuncR type="discrete" tableValues="0.0000 0.0000 0.0000 0.0000 0.0000 0.0000 0.0000 0.0000 0.0526 0.0526 0.0526 0.0526 0.0526 0.0526 0.1053 0.1053 0.1053 0.1053 0.1053 0.1053 0.1579 0.1579 0.1579 0.2105 0.2105 0.2105 0.2105 0.2105 0.2105 0.2105 0.2632 0.2632 0.2632 0.2632 0.2632 0.2632 0.2632 0.2632 0.3158 0.3158 0.3158 0.3158 0.3158 0.3158 0.3158 0.3684 0.3684 0.3684 0.3684 0.3684 0.3684 0.4211 0.4211 0.4211 0.4211 0.4211 0.4737 0.4737 0.4737 0.4737 0.4737 0.4737 0.4737 0.4737 0.4737 0.5263 0.5263 0.5263 0.5263 0.5263 0.5263 0.5263 0.5263 0.5263 0.5263 0.5263 0.5263 0.5789 0.5789 0.5789 0.5789 0.5789 0.5789 0.5789 0.5789 0.5789 0.5789 0.5789 0.5789 0.5789 0.5789 0.6316 0.6316 0.6316 0.6316 0.6316 0.6316 0.6316 0.6316 0.6842 0.6842 0.6842 0.6842 0.6842 0.6842 0.6842 0.6842 0.6842 0.6842 0.6842 0.6842 0.6842 0.6842 0.7368 0.7368 0.7368 0.7368 0.7368 0.7368 0.7368 0.7368 0.7368 0.7368 0.7368 0.7368 0.7368 0.7368 0.7368 0.7368 0.7895 0.7895 0.7895 0.7895 0.7895 0.7895 0.7895 0.7895 0.7895 0.7895 0.7895 0.7895 0.7895 0.8421 0.8421 0.8421 0.8421 0.8421 0.8421 0.8421 0.8421 0.8421 0.8947 0.8947 0.8947 0.8947 0.8947 0.8947 0.8947 0.8947 0.8947 0.8947 0.8947 0.8947 0.8947 0.9474 0.9474 0.9474 0.9474 0.9474 0.9474 0.9474 0.9474 0.9474 0.9474 0.9474 0.9474 0.9474 0.9474 0.9474 1.0000 1.0000 1.0000 1.0000 1.0000 1.0000 1.0000 1.0000 1.0000 1.0000 1.0000 1.0000 1.0000 1.0000 1.0000 1.0000 1.0000 1.0000 1.0000 1.0000 1.0000"/><feFuncG type="discrete" tableValues="0.0000 0.0000 0.0000 0.0000 0.0000 0.0000 0.0000 0.0000 0.0526 0.0526 0.0526 0.0526 0.0526 0.0526 0.1053 0.1053 0.1053 0.1053 0.1053 0.1053 0.1579 0.1579 0.1579 0.2105 0.2105 0.2105 0.2105 0.2105 0.2105 0.2105 0.2632 0.2632 0.2632 0.2632 0.2632 0.2632 0.2632 0.2632 0.3158 0.3158 0.3158 0.3158 0.3158 0.3158 0.3158 0.3684 0.3684 0.3684 0.3684 0.3684 0.3684 0.4211 0.4211 0.4211 0.4211 0.4211 0.4737 0.4737 0.4737 0.4737 0.4737 0.4737 0.4737 0.4737 0.4737 0.5263 0.5263 0.5263 0.5263 0.5263 0.5263 0.5263 0.5263 0.5263 0.5263 0.5263 0.5263 0.5789 0.5789 0.5789 0.5789 0.5789 0.5789 0.5789 0.5789 0.5789 0.5789 0.5789 0.5789 0.5789 0.5789 0.6316 0.6316 0.6316 0.6316 0.6316 0.6316 0.6316 0.6316 0.6842 0.6842 0.6842 0.6842 0.6842 0.6842 0.6842 0.6842 0.6842 0.6842 0.6842 0.6842 0.6842 0.6842 0.7368 0.7368 0.7368 0.7368 0.7368 0.7368 0.7368 0.7368 0.7368 0.7368 0.7368 0.7368 0.7368 0.7368 0.7368 0.7368 0.7895 0.7895 0.7895 0.7895 0.7895 0.7895 0.7895 0.7895 0.7895 0.7895 0.7895 0.7895 0.7895 0.8421 0.8421 0.8421 0.8421 0.8421 0.8421 0.8421 0.8421 0.8421 0.8947 0.8947 0.8947 0.8947 0.8947 0.8947 0.8947 0.8947 0.8947 0.8947 0.8947 0.8947 0.8947 0.9474 0.9474 0.9474 0.9474 0.9474 0.9474 0.9474 0.9474 0.9474 0.9474 0.9474 0.9474 0.9474 0.9474 0.9474 1.0000 1.0000 1.0000 1.0000 1.0000 1.0000 1.0000 1.0000 1.0000 1.0000 1.0000 1.0000 1.0000 1.0000 1.0000 1.0000 1.0000 1.0000 1.0000 1.0000 1.0000"/><feFuncB type="discrete" tableValues="0.0000 0.0000 0.0000 0.0000 0.0000 0.0000 0.0000 0.0000 0.0526 0.0526 0.0526 0.0526 0.0526 0.0526 0.1053 0.1053 0.1053 0.1053 0.1053 0.1053 0.1579 0.1579 0.1579 0.2105 0.2105 0.2105 0.2105 0.2105 0.2105 0.2105 0.2632 0.2632 0.2632 0.2632 0.2632 0.2632 0.2632 0.2632 0.3158 0.3158 0.3158 0.3158 0.3158 0.3158 0.3158 0.3684 0.3684 0.3684 0.3684 0.3684 0.3684 0.4211 0.4211 0.4211 0.4211 0.4211 0.4737 0.4737 0.4737 0.4737 0.4737 0.4737 0.4737 0.4737 0.4737 0.5263 0.5263 0.5263 0.5263 0.5263 0.5263 0.5263 0.5263 0.5263 0.5263 0.5263 0.5263 0.5789 0.5789 0.5789 0.5789 0.5789 0.5789 0.5789 0.5789 0.5789 0.5789 0.5789 0.5789 0.5789 0.5789 0.6316 0.6316 0.6316 0.6316 0.6316 0.6316 0.6316 0.6316 0.6842 0.6842 0.6842 0.6842 0.6842 0.6842 0.6842 0.6842 0.6842 0.6842 0.6842 0.6842 0.6842 0.6842 0.7368 0.7368 0.7368 0.7368 0.7368 0.7368 0.7368 0.7368 0.7368 0.7368 0.7368 0.7368 0.7368 0.7368 0.7368 0.7368 0.7895 0.7895 0.7895 0.7895 0.7895 0.7895 0.7895 0.7895 0.7895 0.7895 0.7895 0.7895 0.7895 0.8421 0.8421 0.8421 0.8421 0.8421 0.8421 0.8421 0.8421 0.8421 0.8947 0.8947 0.8947 0.8947 0.8947 0.8947 0.8947 0.8947 0.8947 0.8947 0.8947 0.8947 0.8947 0.9474 0.9474 0.9474 0.9474 0.9474 0.9474 0.9474 0.9474 0.9474 0.9474 0.9474 0.9474 0.9474 0.9474 0.9474 1.0000 1.0000 1.0000 1.0000 1.0000 1.0000 1.0000 1.0000 1.0000 1.0000 1.0000 1.0000 1.0000 1.0000 1.0000 1.0000 1.0000 1.0000 1.0000 1.0000 1.0000"/></feComponentTransfer>
<feConvolveMatrix in="q" order="3" kernelMatrix="0 -1 0 -1 4 -1 0 -1 0" preserveAlpha="true" result="e"/>
<feColorMatrix in="e" type="matrix" values="0 0 0 0 1  0 0 0 0 1  0 0 0 0 1  4.20 0 0 0 0" result="ew"/>
<feComponentTransfer in="u" result="c"><feFuncR type="discrete" tableValues="0.627 0.627 0.627 0.627 0.627 0.627 0.627 0.627 0.725 0.725 0.725 0.725 0.725 0.725 0.827 0.827 0.827 0.827 0.827 0.827 0.910 0.910 0.910 0.208 0.208 0.208 0.208 0.208 0.208 0.208 0.408 0.408 0.408 0.408 0.408 0.408 0.408 0.408 0.608 0.608 0.608 0.608 0.608 0.608 0.608 0.804 0.804 0.804 0.804 0.804 0.804 0.812 0.812 0.812 0.812 0.812 0.616 0.616 0.616 0.616 0.616 0.616 0.616 0.616 0.616 0.396 0.396 0.396 0.396 0.396 0.396 0.396 0.396 0.396 0.396 0.396 0.396 0.200 0.200 0.200 0.200 0.200 0.200 0.200 0.200 0.200 0.200 0.200 0.200 0.200 0.200 0.910 0.910 0.910 0.910 0.910 0.910 0.910 0.910 0.824 0.824 0.824 0.824 0.824 0.824 0.824 0.824 0.824 0.824 0.824 0.824 0.824 0.824 0.718 0.718 0.718 0.718 0.718 0.718 0.718 0.718 0.718 0.718 0.718 0.718 0.718 0.718 0.718 0.718 0.620 0.620 0.620 0.620 0.620 0.620 0.620 0.620 0.620 0.620 0.620 0.620 0.620 0.910 0.910 0.910 0.910 0.910 0.910 0.910 0.910 0.910 0.827 0.827 0.827 0.827 0.827 0.827 0.827 0.827 0.827 0.827 0.827 0.827 0.827 0.733 0.733 0.733 0.733 0.733 0.733 0.733 0.733 0.733 0.733 0.733 0.733 0.733 0.733 0.733 0.635 0.635 0.635 0.635 0.635 0.635 0.635 0.635 0.635 0.635 0.635 0.635 0.635 0.635 0.635 0.635 0.635 0.635 0.635 0.635 0.635"/><feFuncG type="discrete" tableValues="0.396 0.396 0.396 0.396 0.396 0.396 0.396 0.396 0.545 0.545 0.545 0.545 0.545 0.545 0.706 0.706 0.706 0.706 0.706 0.706 0.867 0.867 0.867 0.529 0.529 0.529 0.529 0.529 0.529 0.529 0.643 0.643 0.643 0.643 0.643 0.643 0.643 0.643 0.769 0.769 0.769 0.769 0.769 0.769 0.769 0.882 0.882 0.882 0.882 0.882 0.882 0.910 0.910 0.910 0.910 0.910 0.831 0.831 0.831 0.831 0.831 0.831 0.831 0.831 0.831 0.729 0.729 0.729 0.729 0.729 0.729 0.729 0.729 0.729 0.729 0.729 0.729 0.639 0.639 0.639 0.639 0.639 0.639 0.639 0.639 0.639 0.639 0.639 0.639 0.639 0.639 0.784 0.784 0.784 0.784 0.784 0.784 0.784 0.784 0.588 0.588 0.588 0.588 0.588 0.588 0.588 0.588 0.588 0.588 0.588 0.588 0.588 0.588 0.396 0.396 0.396 0.396 0.396 0.396 0.396 0.396 0.396 0.396 0.396 0.396 0.396 0.396 0.396 0.396 0.200 0.200 0.200 0.200 0.200 0.200 0.200 0.200 0.200 0.200 0.200 0.200 0.200 0.800 0.800 0.800 0.800 0.800 0.800 0.800 0.800 0.800 0.600 0.600 0.600 0.600 0.600 0.600 0.600 0.600 0.600 0.600 0.600 0.600 0.600 0.400 0.400 0.400 0.400 0.400 0.400 0.400 0.400 0.400 0.400 0.400 0.400 0.400 0.400 0.400 0.196 0.196 0.196 0.196 0.196 0.196 0.196 0.196 0.196 0.196 0.196 0.196 0.196 0.196 0.196 0.196 0.196 0.196 0.196 0.196 0.196"/><feFuncB type="discrete" tableValues="0.247 0.247 0.247 0.247 0.247 0.247 0.247 0.247 0.431 0.431 0.431 0.431 0.431 0.431 0.627 0.627 0.627 0.627 0.627 0.627 0.831 0.831 0.831 0.200 0.200 0.200 0.200 0.200 0.200 0.200 0.400 0.400 0.400 0.400 0.400 0.400 0.400 0.400 0.600 0.600 0.600 0.600 0.600 0.600 0.600 0.800 0.800 0.800 0.800 0.800 0.800 0.918 0.918 0.918 0.918 0.918 0.824 0.824 0.824 0.824 0.824 0.824 0.824 0.824 0.824 0.722 0.722 0.722 0.722 0.722 0.722 0.722 0.722 0.722 0.722 0.722 0.722 0.639 0.639 0.639 0.639 0.639 0.639 0.639 0.639 0.639 0.639 0.639 0.639 0.639 0.639 0.902 0.902 0.902 0.902 0.902 0.902 0.902 0.902 0.827 0.827 0.827 0.827 0.827 0.827 0.827 0.827 0.827 0.827 0.827 0.827 0.827 0.827 0.725 0.725 0.725 0.725 0.725 0.725 0.725 0.725 0.725 0.725 0.725 0.725 0.725 0.725 0.725 0.725 0.647 0.647 0.647 0.647 0.647 0.647 0.647 0.647 0.647 0.647 0.647 0.647 0.647 0.800 0.800 0.800 0.800 0.800 0.800 0.800 0.800 0.800 0.600 0.600 0.600 0.600 0.600 0.600 0.600 0.600 0.600 0.600 0.600 0.600 0.600 0.400 0.400 0.400 0.400 0.400 0.400 0.400 0.400 0.400 0.400 0.400 0.400 0.400 0.400 0.400 0.196 0.196 0.196 0.196 0.196 0.196 0.196 0.196 0.196 0.196 0.196 0.196 0.196 0.196 0.196 0.196 0.196 0.196 0.196 0.196 0.196"/></feComponentTransfer>
<feMerge><feMergeNode in="c"/><feMergeNode in="ew"/></feMerge>
</filter>
<filter id="nz1" x="0" y="0" width="688.1" height="219" filterUnits="userSpaceOnUse" color-interpolation-filters="sRGB">
<feTurbulence type="fractalNoise" baseFrequency="0.045" numOctaves="3" seed="27" result="t"/>
<feColorMatrix in="t" type="matrix" values="1 0 0 0 0  1 0 0 0 0  1 0 0 0 0  0 0 0 0 1" result="g0"/>
<feGaussianBlur in="g0" stdDeviation="0.6" result="g"/>
<feComponentTransfer in="g" result="u"><feFuncR type="table" tableValues="0.0000 0.0000 0.0000 0.0000 0.0001 0.0002 0.0008 0.0019 0.0048 0.0098 0.0180 0.0335 0.0531 0.0785 0.1168 0.1576 0.2145 0.2709 0.3355 0.4198 0.4925 0.5786 0.6637 0.7290 0.7946 0.8421 0.8822 0.9204 0.9458 0.9655 0.9813 0.9897 0.9956 0.9981 0.9993 0.9998 1.0000 1.0000 1.0000 1.0000 1.0000"/><feFuncG type="table" tableValues="0.0000 0.0000 0.0000 0.0000 0.0001 0.0002 0.0008 0.0019 0.0048 0.0098 0.0180 0.0335 0.0531 0.0785 0.1168 0.1576 0.2145 0.2709 0.3355 0.4198 0.4925 0.5786 0.6637 0.7290 0.7946 0.8421 0.8822 0.9204 0.9458 0.9655 0.9813 0.9897 0.9956 0.9981 0.9993 0.9998 1.0000 1.0000 1.0000 1.0000 1.0000"/><feFuncB type="table" tableValues="0.0000 0.0000 0.0000 0.0000 0.0001 0.0002 0.0008 0.0019 0.0048 0.0098 0.0180 0.0335 0.0531 0.0785 0.1168 0.1576 0.2145 0.2709 0.3355 0.4198 0.4925 0.5786 0.6637 0.7290 0.7946 0.8421 0.8822 0.9204 0.9458 0.9655 0.9813 0.9897 0.9956 0.9981 0.9993 0.9998 1.0000 1.0000 1.0000 1.0000 1.0000"/></feComponentTransfer>
<feComponentTransfer in="u" result="q"><feFuncR type="discrete" tableValues="0.0000 0.0000 0.0000 0.0000 0.0000 0.0000 0.0000 0.0000 0.0526 0.0526 0.0526 0.0526 0.0526 0.0526 0.1053 0.1053 0.1053 0.1053 0.1053 0.1053 0.1579 0.1579 0.1579 0.2105 0.2105 0.2105 0.2105 0.2105 0.2105 0.2105 0.2632 0.2632 0.2632 0.2632 0.2632 0.2632 0.2632 0.2632 0.3158 0.3158 0.3158 0.3158 0.3158 0.3158 0.3158 0.3684 0.3684 0.3684 0.3684 0.3684 0.3684 0.4211 0.4211 0.4211 0.4211 0.4211 0.4737 0.4737 0.4737 0.4737 0.4737 0.4737 0.4737 0.4737 0.4737 0.5263 0.5263 0.5263 0.5263 0.5263 0.5263 0.5263 0.5263 0.5263 0.5263 0.5263 0.5263 0.5789 0.5789 0.5789 0.5789 0.5789 0.5789 0.5789 0.5789 0.5789 0.5789 0.5789 0.5789 0.5789 0.5789 0.6316 0.6316 0.6316 0.6316 0.6316 0.6316 0.6316 0.6316 0.6842 0.6842 0.6842 0.6842 0.6842 0.6842 0.6842 0.6842 0.6842 0.6842 0.6842 0.6842 0.6842 0.6842 0.7368 0.7368 0.7368 0.7368 0.7368 0.7368 0.7368 0.7368 0.7368 0.7368 0.7368 0.7368 0.7368 0.7368 0.7368 0.7368 0.7895 0.7895 0.7895 0.7895 0.7895 0.7895 0.7895 0.7895 0.7895 0.7895 0.7895 0.7895 0.7895 0.8421 0.8421 0.8421 0.8421 0.8421 0.8421 0.8421 0.8421 0.8421 0.8947 0.8947 0.8947 0.8947 0.8947 0.8947 0.8947 0.8947 0.8947 0.8947 0.8947 0.8947 0.8947 0.9474 0.9474 0.9474 0.9474 0.9474 0.9474 0.9474 0.9474 0.9474 0.9474 0.9474 0.9474 0.9474 0.9474 0.9474 1.0000 1.0000 1.0000 1.0000 1.0000 1.0000 1.0000 1.0000 1.0000 1.0000 1.0000 1.0000 1.0000 1.0000 1.0000 1.0000 1.0000 1.0000 1.0000 1.0000 1.0000"/><feFuncG type="discrete" tableValues="0.0000 0.0000 0.0000 0.0000 0.0000 0.0000 0.0000 0.0000 0.0526 0.0526 0.0526 0.0526 0.0526 0.0526 0.1053 0.1053 0.1053 0.1053 0.1053 0.1053 0.1579 0.1579 0.1579 0.2105 0.2105 0.2105 0.2105 0.2105 0.2105 0.2105 0.2632 0.2632 0.2632 0.2632 0.2632 0.2632 0.2632 0.2632 0.3158 0.3158 0.3158 0.3158 0.3158 0.3158 0.3158 0.3684 0.3684 0.3684 0.3684 0.3684 0.3684 0.4211 0.4211 0.4211 0.4211 0.4211 0.4737 0.4737 0.4737 0.4737 0.4737 0.4737 0.4737 0.4737 0.4737 0.5263 0.5263 0.5263 0.5263 0.5263 0.5263 0.5263 0.5263 0.5263 0.5263 0.5263 0.5263 0.5789 0.5789 0.5789 0.5789 0.5789 0.5789 0.5789 0.5789 0.5789 0.5789 0.5789 0.5789 0.5789 0.5789 0.6316 0.6316 0.6316 0.6316 0.6316 0.6316 0.6316 0.6316 0.6842 0.6842 0.6842 0.6842 0.6842 0.6842 0.6842 0.6842 0.6842 0.6842 0.6842 0.6842 0.6842 0.6842 0.7368 0.7368 0.7368 0.7368 0.7368 0.7368 0.7368 0.7368 0.7368 0.7368 0.7368 0.7368 0.7368 0.7368 0.7368 0.7368 0.7895 0.7895 0.7895 0.7895 0.7895 0.7895 0.7895 0.7895 0.7895 0.7895 0.7895 0.7895 0.7895 0.8421 0.8421 0.8421 0.8421 0.8421 0.8421 0.8421 0.8421 0.8421 0.8947 0.8947 0.8947 0.8947 0.8947 0.8947 0.8947 0.8947 0.8947 0.8947 0.8947 0.8947 0.8947 0.9474 0.9474 0.9474 0.9474 0.9474 0.9474 0.9474 0.9474 0.9474 0.9474 0.9474 0.9474 0.9474 0.9474 0.9474 1.0000 1.0000 1.0000 1.0000 1.0000 1.0000 1.0000 1.0000 1.0000 1.0000 1.0000 1.0000 1.0000 1.0000 1.0000 1.0000 1.0000 1.0000 1.0000 1.0000 1.0000"/><feFuncB type="discrete" tableValues="0.0000 0.0000 0.0000 0.0000 0.0000 0.0000 0.0000 0.0000 0.0526 0.0526 0.0526 0.0526 0.0526 0.0526 0.1053 0.1053 0.1053 0.1053 0.1053 0.1053 0.1579 0.1579 0.1579 0.2105 0.2105 0.2105 0.2105 0.2105 0.2105 0.2105 0.2632 0.2632 0.2632 0.2632 0.2632 0.2632 0.2632 0.2632 0.3158 0.3158 0.3158 0.3158 0.3158 0.3158 0.3158 0.3684 0.3684 0.3684 0.3684 0.3684 0.3684 0.4211 0.4211 0.4211 0.4211 0.4211 0.4737 0.4737 0.4737 0.4737 0.4737 0.4737 0.4737 0.4737 0.4737 0.5263 0.5263 0.5263 0.5263 0.5263 0.5263 0.5263 0.5263 0.5263 0.5263 0.5263 0.5263 0.5789 0.5789 0.5789 0.5789 0.5789 0.5789 0.5789 0.5789 0.5789 0.5789 0.5789 0.5789 0.5789 0.5789 0.6316 0.6316 0.6316 0.6316 0.6316 0.6316 0.6316 0.6316 0.6842 0.6842 0.6842 0.6842 0.6842 0.6842 0.6842 0.6842 0.6842 0.6842 0.6842 0.6842 0.6842 0.6842 0.7368 0.7368 0.7368 0.7368 0.7368 0.7368 0.7368 0.7368 0.7368 0.7368 0.7368 0.7368 0.7368 0.7368 0.7368 0.7368 0.7895 0.7895 0.7895 0.7895 0.7895 0.7895 0.7895 0.7895 0.7895 0.7895 0.7895 0.7895 0.7895 0.8421 0.8421 0.8421 0.8421 0.8421 0.8421 0.8421 0.8421 0.8421 0.8947 0.8947 0.8947 0.8947 0.8947 0.8947 0.8947 0.8947 0.8947 0.8947 0.8947 0.8947 0.8947 0.9474 0.9474 0.9474 0.9474 0.9474 0.9474 0.9474 0.9474 0.9474 0.9474 0.9474 0.9474 0.9474 0.9474 0.9474 1.0000 1.0000 1.0000 1.0000 1.0000 1.0000 1.0000 1.0000 1.0000 1.0000 1.0000 1.0000 1.0000 1.0000 1.0000 1.0000 1.0000 1.0000 1.0000 1.0000 1.0000"/></feComponentTransfer>
<feConvolveMatrix in="q" order="3" kernelMatrix="0 -1 0 -1 4 -1 0 -1 0" preserveAlpha="true" result="e"/>
<feColorMatrix in="e" type="matrix" values="0 0 0 0 1  0 0 0 0 1  0 0 0 0 1  4.20 0 0 0 0" result="ew"/>
<feComponentTransfer in="u" result="c"><feFuncR type="discrete" tableValues="0.627 0.627 0.627 0.627 0.627 0.627 0.627 0.627 0.725 0.725 0.725 0.725 0.725 0.725 0.827 0.827 0.827 0.827 0.827 0.827 0.910 0.910 0.910 0.208 0.208 0.208 0.208 0.208 0.208 0.208 0.408 0.408 0.408 0.408 0.408 0.408 0.408 0.408 0.608 0.608 0.608 0.608 0.608 0.608 0.608 0.804 0.804 0.804 0.804 0.804 0.804 0.812 0.812 0.812 0.812 0.812 0.616 0.616 0.616 0.616 0.616 0.616 0.616 0.616 0.616 0.396 0.396 0.396 0.396 0.396 0.396 0.396 0.396 0.396 0.396 0.396 0.396 0.200 0.200 0.200 0.200 0.200 0.200 0.200 0.200 0.200 0.200 0.200 0.200 0.200 0.200 0.910 0.910 0.910 0.910 0.910 0.910 0.910 0.910 0.824 0.824 0.824 0.824 0.824 0.824 0.824 0.824 0.824 0.824 0.824 0.824 0.824 0.824 0.718 0.718 0.718 0.718 0.718 0.718 0.718 0.718 0.718 0.718 0.718 0.718 0.718 0.718 0.718 0.718 0.620 0.620 0.620 0.620 0.620 0.620 0.620 0.620 0.620 0.620 0.620 0.620 0.620 0.910 0.910 0.910 0.910 0.910 0.910 0.910 0.910 0.910 0.827 0.827 0.827 0.827 0.827 0.827 0.827 0.827 0.827 0.827 0.827 0.827 0.827 0.733 0.733 0.733 0.733 0.733 0.733 0.733 0.733 0.733 0.733 0.733 0.733 0.733 0.733 0.733 0.635 0.635 0.635 0.635 0.635 0.635 0.635 0.635 0.635 0.635 0.635 0.635 0.635 0.635 0.635 0.635 0.635 0.635 0.635 0.635 0.635"/><feFuncG type="discrete" tableValues="0.396 0.396 0.396 0.396 0.396 0.396 0.396 0.396 0.545 0.545 0.545 0.545 0.545 0.545 0.706 0.706 0.706 0.706 0.706 0.706 0.867 0.867 0.867 0.529 0.529 0.529 0.529 0.529 0.529 0.529 0.643 0.643 0.643 0.643 0.643 0.643 0.643 0.643 0.769 0.769 0.769 0.769 0.769 0.769 0.769 0.882 0.882 0.882 0.882 0.882 0.882 0.910 0.910 0.910 0.910 0.910 0.831 0.831 0.831 0.831 0.831 0.831 0.831 0.831 0.831 0.729 0.729 0.729 0.729 0.729 0.729 0.729 0.729 0.729 0.729 0.729 0.729 0.639 0.639 0.639 0.639 0.639 0.639 0.639 0.639 0.639 0.639 0.639 0.639 0.639 0.639 0.784 0.784 0.784 0.784 0.784 0.784 0.784 0.784 0.588 0.588 0.588 0.588 0.588 0.588 0.588 0.588 0.588 0.588 0.588 0.588 0.588 0.588 0.396 0.396 0.396 0.396 0.396 0.396 0.396 0.396 0.396 0.396 0.396 0.396 0.396 0.396 0.396 0.396 0.200 0.200 0.200 0.200 0.200 0.200 0.200 0.200 0.200 0.200 0.200 0.200 0.200 0.800 0.800 0.800 0.800 0.800 0.800 0.800 0.800 0.800 0.600 0.600 0.600 0.600 0.600 0.600 0.600 0.600 0.600 0.600 0.600 0.600 0.600 0.400 0.400 0.400 0.400 0.400 0.400 0.400 0.400 0.400 0.400 0.400 0.400 0.400 0.400 0.400 0.196 0.196 0.196 0.196 0.196 0.196 0.196 0.196 0.196 0.196 0.196 0.196 0.196 0.196 0.196 0.196 0.196 0.196 0.196 0.196 0.196"/><feFuncB type="discrete" tableValues="0.247 0.247 0.247 0.247 0.247 0.247 0.247 0.247 0.431 0.431 0.431 0.431 0.431 0.431 0.627 0.627 0.627 0.627 0.627 0.627 0.831 0.831 0.831 0.200 0.200 0.200 0.200 0.200 0.200 0.200 0.400 0.400 0.400 0.400 0.400 0.400 0.400 0.400 0.600 0.600 0.600 0.600 0.600 0.600 0.600 0.800 0.800 0.800 0.800 0.800 0.800 0.918 0.918 0.918 0.918 0.918 0.824 0.824 0.824 0.824 0.824 0.824 0.824 0.824 0.824 0.722 0.722 0.722 0.722 0.722 0.722 0.722 0.722 0.722 0.722 0.722 0.722 0.639 0.639 0.639 0.639 0.639 0.639 0.639 0.639 0.639 0.639 0.639 0.639 0.639 0.639 0.902 0.902 0.902 0.902 0.902 0.902 0.902 0.902 0.827 0.827 0.827 0.827 0.827 0.827 0.827 0.827 0.827 0.827 0.827 0.827 0.827 0.827 0.725 0.725 0.725 0.725 0.725 0.725 0.725 0.725 0.725 0.725 0.725 0.725 0.725 0.725 0.725 0.725 0.647 0.647 0.647 0.647 0.647 0.647 0.647 0.647 0.647 0.647 0.647 0.647 0.647 0.800 0.800 0.800 0.800 0.800 0.800 0.800 0.800 0.800 0.600 0.600 0.600 0.600 0.600 0.600 0.600 0.600 0.600 0.600 0.600 0.600 0.600 0.400 0.400 0.400 0.400 0.400 0.400 0.400 0.400 0.400 0.400 0.400 0.400 0.400 0.400 0.400 0.196 0.196 0.196 0.196 0.196 0.196 0.196 0.196 0.196 0.196 0.196 0.196 0.196 0.196 0.196 0.196 0.196 0.196 0.196 0.196 0.196"/></feComponentTransfer>
<feMerge><feMergeNode in="c"/><feMergeNode in="ew"/></feMerge>
</filter>
<filter id="nz2" x="0" y="0" width="688.1" height="219" filterUnits="userSpaceOnUse" color-interpolation-filters="sRGB">
<feTurbulence type="fractalNoise" baseFrequency="0.045" numOctaves="3" seed="53" result="t"/>
<feColorMatrix in="t" type="matrix" values="1 0 0 0 0  1 0 0 0 0  1 0 0 0 0  0 0 0 0 1" result="g0"/>
<feGaussianBlur in="g0" stdDeviation="0.6" result="g"/>
<feComponentTransfer in="g" result="u"><feFuncR type="table" tableValues="0.0000 0.0000 0.0000 0.0000 0.0001 0.0002 0.0008 0.0019 0.0048 0.0098 0.0180 0.0335 0.0531 0.0785 0.1168 0.1576 0.2145 0.2709 0.3355 0.4198 0.4925 0.5786 0.6637 0.7290 0.7946 0.8421 0.8822 0.9204 0.9458 0.9655 0.9813 0.9897 0.9956 0.9981 0.9993 0.9998 1.0000 1.0000 1.0000 1.0000 1.0000"/><feFuncG type="table" tableValues="0.0000 0.0000 0.0000 0.0000 0.0001 0.0002 0.0008 0.0019 0.0048 0.0098 0.0180 0.0335 0.0531 0.0785 0.1168 0.1576 0.2145 0.2709 0.3355 0.4198 0.4925 0.5786 0.6637 0.7290 0.7946 0.8421 0.8822 0.9204 0.9458 0.9655 0.9813 0.9897 0.9956 0.9981 0.9993 0.9998 1.0000 1.0000 1.0000 1.0000 1.0000"/><feFuncB type="table" tableValues="0.0000 0.0000 0.0000 0.0000 0.0001 0.0002 0.0008 0.0019 0.0048 0.0098 0.0180 0.0335 0.0531 0.0785 0.1168 0.1576 0.2145 0.2709 0.3355 0.4198 0.4925 0.5786 0.6637 0.7290 0.7946 0.8421 0.8822 0.9204 0.9458 0.9655 0.9813 0.9897 0.9956 0.9981 0.9993 0.9998 1.0000 1.0000 1.0000 1.0000 1.0000"/></feComponentTransfer>
<feComponentTransfer in="u" result="q"><feFuncR type="discrete" tableValues="0.0000 0.0000 0.0000 0.0000 0.0000 0.0000 0.0000 0.0000 0.0526 0.0526 0.0526 0.0526 0.0526 0.0526 0.1053 0.1053 0.1053 0.1053 0.1053 0.1053 0.1579 0.1579 0.1579 0.2105 0.2105 0.2105 0.2105 0.2105 0.2105 0.2105 0.2632 0.2632 0.2632 0.2632 0.2632 0.2632 0.2632 0.2632 0.3158 0.3158 0.3158 0.3158 0.3158 0.3158 0.3158 0.3684 0.3684 0.3684 0.3684 0.3684 0.3684 0.4211 0.4211 0.4211 0.4211 0.4211 0.4737 0.4737 0.4737 0.4737 0.4737 0.4737 0.4737 0.4737 0.4737 0.5263 0.5263 0.5263 0.5263 0.5263 0.5263 0.5263 0.5263 0.5263 0.5263 0.5263 0.5263 0.5789 0.5789 0.5789 0.5789 0.5789 0.5789 0.5789 0.5789 0.5789 0.5789 0.5789 0.5789 0.5789 0.5789 0.6316 0.6316 0.6316 0.6316 0.6316 0.6316 0.6316 0.6316 0.6842 0.6842 0.6842 0.6842 0.6842 0.6842 0.6842 0.6842 0.6842 0.6842 0.6842 0.6842 0.6842 0.6842 0.7368 0.7368 0.7368 0.7368 0.7368 0.7368 0.7368 0.7368 0.7368 0.7368 0.7368 0.7368 0.7368 0.7368 0.7368 0.7368 0.7895 0.7895 0.7895 0.7895 0.7895 0.7895 0.7895 0.7895 0.7895 0.7895 0.7895 0.7895 0.7895 0.8421 0.8421 0.8421 0.8421 0.8421 0.8421 0.8421 0.8421 0.8421 0.8947 0.8947 0.8947 0.8947 0.8947 0.8947 0.8947 0.8947 0.8947 0.8947 0.8947 0.8947 0.8947 0.9474 0.9474 0.9474 0.9474 0.9474 0.9474 0.9474 0.9474 0.9474 0.9474 0.9474 0.9474 0.9474 0.9474 0.9474 1.0000 1.0000 1.0000 1.0000 1.0000 1.0000 1.0000 1.0000 1.0000 1.0000 1.0000 1.0000 1.0000 1.0000 1.0000 1.0000 1.0000 1.0000 1.0000 1.0000 1.0000"/><feFuncG type="discrete" tableValues="0.0000 0.0000 0.0000 0.0000 0.0000 0.0000 0.0000 0.0000 0.0526 0.0526 0.0526 0.0526 0.0526 0.0526 0.1053 0.1053 0.1053 0.1053 0.1053 0.1053 0.1579 0.1579 0.1579 0.2105 0.2105 0.2105 0.2105 0.2105 0.2105 0.2105 0.2632 0.2632 0.2632 0.2632 0.2632 0.2632 0.2632 0.2632 0.3158 0.3158 0.3158 0.3158 0.3158 0.3158 0.3158 0.3684 0.3684 0.3684 0.3684 0.3684 0.3684 0.4211 0.4211 0.4211 0.4211 0.4211 0.4737 0.4737 0.4737 0.4737 0.4737 0.4737 0.4737 0.4737 0.4737 0.5263 0.5263 0.5263 0.5263 0.5263 0.5263 0.5263 0.5263 0.5263 0.5263 0.5263 0.5263 0.5789 0.5789 0.5789 0.5789 0.5789 0.5789 0.5789 0.5789 0.5789 0.5789 0.5789 0.5789 0.5789 0.5789 0.6316 0.6316 0.6316 0.6316 0.6316 0.6316 0.6316 0.6316 0.6842 0.6842 0.6842 0.6842 0.6842 0.6842 0.6842 0.6842 0.6842 0.6842 0.6842 0.6842 0.6842 0.6842 0.7368 0.7368 0.7368 0.7368 0.7368 0.7368 0.7368 0.7368 0.7368 0.7368 0.7368 0.7368 0.7368 0.7368 0.7368 0.7368 0.7895 0.7895 0.7895 0.7895 0.7895 0.7895 0.7895 0.7895 0.7895 0.7895 0.7895 0.7895 0.7895 0.8421 0.8421 0.8421 0.8421 0.8421 0.8421 0.8421 0.8421 0.8421 0.8947 0.8947 0.8947 0.8947 0.8947 0.8947 0.8947 0.8947 0.8947 0.8947 0.8947 0.8947 0.8947 0.9474 0.9474 0.9474 0.9474 0.9474 0.9474 0.9474 0.9474 0.9474 0.9474 0.9474 0.9474 0.9474 0.9474 0.9474 1.0000 1.0000 1.0000 1.0000 1.0000 1.0000 1.0000 1.0000 1.0000 1.0000 1.0000 1.0000 1.0000 1.0000 1.0000 1.0000 1.0000 1.0000 1.0000 1.0000 1.0000"/><feFuncB type="discrete" tableValues="0.0000 0.0000 0.0000 0.0000 0.0000 0.0000 0.0000 0.0000 0.0526 0.0526 0.0526 0.0526 0.0526 0.0526 0.1053 0.1053 0.1053 0.1053 0.1053 0.1053 0.1579 0.1579 0.1579 0.2105 0.2105 0.2105 0.2105 0.2105 0.2105 0.2105 0.2632 0.2632 0.2632 0.2632 0.2632 0.2632 0.2632 0.2632 0.3158 0.3158 0.3158 0.3158 0.3158 0.3158 0.3158 0.3684 0.3684 0.3684 0.3684 0.3684 0.3684 0.4211 0.4211 0.4211 0.4211 0.4211 0.4737 0.4737 0.4737 0.4737 0.4737 0.4737 0.4737 0.4737 0.4737 0.5263 0.5263 0.5263 0.5263 0.5263 0.5263 0.5263 0.5263 0.5263 0.5263 0.5263 0.5263 0.5789 0.5789 0.5789 0.5789 0.5789 0.5789 0.5789 0.5789 0.5789 0.5789 0.5789 0.5789 0.5789 0.5789 0.6316 0.6316 0.6316 0.6316 0.6316 0.6316 0.6316 0.6316 0.6842 0.6842 0.6842 0.6842 0.6842 0.6842 0.6842 0.6842 0.6842 0.6842 0.6842 0.6842 0.6842 0.6842 0.7368 0.7368 0.7368 0.7368 0.7368 0.7368 0.7368 0.7368 0.7368 0.7368 0.7368 0.7368 0.7368 0.7368 0.7368 0.7368 0.7895 0.7895 0.7895 0.7895 0.7895 0.7895 0.7895 0.7895 0.7895 0.7895 0.7895 0.7895 0.7895 0.8421 0.8421 0.8421 0.8421 0.8421 0.8421 0.8421 0.8421 0.8421 0.8947 0.8947 0.8947 0.8947 0.8947 0.8947 0.8947 0.8947 0.8947 0.8947 0.8947 0.8947 0.8947 0.9474 0.9474 0.9474 0.9474 0.9474 0.9474 0.9474 0.9474 0.9474 0.9474 0.9474 0.9474 0.9474 0.9474 0.9474 1.0000 1.0000 1.0000 1.0000 1.0000 1.0000 1.0000 1.0000 1.0000 1.0000 1.0000 1.0000 1.0000 1.0000 1.0000 1.0000 1.0000 1.0000 1.0000 1.0000 1.0000"/></feComponentTransfer>
<feConvolveMatrix in="q" order="3" kernelMatrix="0 -1 0 -1 4 -1 0 -1 0" preserveAlpha="true" result="e"/>
<feColorMatrix in="e" type="matrix" values="0 0 0 0 1  0 0 0 0 1  0 0 0 0 1  4.20 0 0 0 0" result="ew"/>
<feComponentTransfer in="u" result="c"><feFuncR type="discrete" tableValues="0.627 0.627 0.627 0.627 0.627 0.627 0.627 0.627 0.725 0.725 0.725 0.725 0.725 0.725 0.827 0.827 0.827 0.827 0.827 0.827 0.910 0.910 0.910 0.208 0.208 0.208 0.208 0.208 0.208 0.208 0.408 0.408 0.408 0.408 0.408 0.408 0.408 0.408 0.608 0.608 0.608 0.608 0.608 0.608 0.608 0.804 0.804 0.804 0.804 0.804 0.804 0.812 0.812 0.812 0.812 0.812 0.616 0.616 0.616 0.616 0.616 0.616 0.616 0.616 0.616 0.396 0.396 0.396 0.396 0.396 0.396 0.396 0.396 0.396 0.396 0.396 0.396 0.200 0.200 0.200 0.200 0.200 0.200 0.200 0.200 0.200 0.200 0.200 0.200 0.200 0.200 0.910 0.910 0.910 0.910 0.910 0.910 0.910 0.910 0.824 0.824 0.824 0.824 0.824 0.824 0.824 0.824 0.824 0.824 0.824 0.824 0.824 0.824 0.718 0.718 0.718 0.718 0.718 0.718 0.718 0.718 0.718 0.718 0.718 0.718 0.718 0.718 0.718 0.718 0.620 0.620 0.620 0.620 0.620 0.620 0.620 0.620 0.620 0.620 0.620 0.620 0.620 0.910 0.910 0.910 0.910 0.910 0.910 0.910 0.910 0.910 0.827 0.827 0.827 0.827 0.827 0.827 0.827 0.827 0.827 0.827 0.827 0.827 0.827 0.733 0.733 0.733 0.733 0.733 0.733 0.733 0.733 0.733 0.733 0.733 0.733 0.733 0.733 0.733 0.635 0.635 0.635 0.635 0.635 0.635 0.635 0.635 0.635 0.635 0.635 0.635 0.635 0.635 0.635 0.635 0.635 0.635 0.635 0.635 0.635"/><feFuncG type="discrete" tableValues="0.396 0.396 0.396 0.396 0.396 0.396 0.396 0.396 0.545 0.545 0.545 0.545 0.545 0.545 0.706 0.706 0.706 0.706 0.706 0.706 0.867 0.867 0.867 0.529 0.529 0.529 0.529 0.529 0.529 0.529 0.643 0.643 0.643 0.643 0.643 0.643 0.643 0.643 0.769 0.769 0.769 0.769 0.769 0.769 0.769 0.882 0.882 0.882 0.882 0.882 0.882 0.910 0.910 0.910 0.910 0.910 0.831 0.831 0.831 0.831 0.831 0.831 0.831 0.831 0.831 0.729 0.729 0.729 0.729 0.729 0.729 0.729 0.729 0.729 0.729 0.729 0.729 0.639 0.639 0.639 0.639 0.639 0.639 0.639 0.639 0.639 0.639 0.639 0.639 0.639 0.639 0.784 0.784 0.784 0.784 0.784 0.784 0.784 0.784 0.588 0.588 0.588 0.588 0.588 0.588 0.588 0.588 0.588 0.588 0.588 0.588 0.588 0.588 0.396 0.396 0.396 0.396 0.396 0.396 0.396 0.396 0.396 0.396 0.396 0.396 0.396 0.396 0.396 0.396 0.200 0.200 0.200 0.200 0.200 0.200 0.200 0.200 0.200 0.200 0.200 0.200 0.200 0.800 0.800 0.800 0.800 0.800 0.800 0.800 0.800 0.800 0.600 0.600 0.600 0.600 0.600 0.600 0.600 0.600 0.600 0.600 0.600 0.600 0.600 0.400 0.400 0.400 0.400 0.400 0.400 0.400 0.400 0.400 0.400 0.400 0.400 0.400 0.400 0.400 0.196 0.196 0.196 0.196 0.196 0.196 0.196 0.196 0.196 0.196 0.196 0.196 0.196 0.196 0.196 0.196 0.196 0.196 0.196 0.196 0.196"/><feFuncB type="discrete" tableValues="0.247 0.247 0.247 0.247 0.247 0.247 0.247 0.247 0.431 0.431 0.431 0.431 0.431 0.431 0.627 0.627 0.627 0.627 0.627 0.627 0.831 0.831 0.831 0.200 0.200 0.200 0.200 0.200 0.200 0.200 0.400 0.400 0.400 0.400 0.400 0.400 0.400 0.400 0.600 0.600 0.600 0.600 0.600 0.600 0.600 0.800 0.800 0.800 0.800 0.800 0.800 0.918 0.918 0.918 0.918 0.918 0.824 0.824 0.824 0.824 0.824 0.824 0.824 0.824 0.824 0.722 0.722 0.722 0.722 0.722 0.722 0.722 0.722 0.722 0.722 0.722 0.722 0.639 0.639 0.639 0.639 0.639 0.639 0.639 0.639 0.639 0.639 0.639 0.639 0.639 0.639 0.902 0.902 0.902 0.902 0.902 0.902 0.902 0.902 0.827 0.827 0.827 0.827 0.827 0.827 0.827 0.827 0.827 0.827 0.827 0.827 0.827 0.827 0.725 0.725 0.725 0.725 0.725 0.725 0.725 0.725 0.725 0.725 0.725 0.725 0.725 0.725 0.725 0.725 0.647 0.647 0.647 0.647 0.647 0.647 0.647 0.647 0.647 0.647 0.647 0.647 0.647 0.800 0.800 0.800 0.800 0.800 0.800 0.800 0.800 0.800 0.600 0.600 0.600 0.600 0.600 0.600 0.600 0.600 0.600 0.600 0.600 0.600 0.600 0.400 0.400 0.400 0.400 0.400 0.400 0.400 0.400 0.400 0.400 0.400 0.400 0.400 0.400 0.400 0.196 0.196 0.196 0.196 0.196 0.196 0.196 0.196 0.196 0.196 0.196 0.196 0.196 0.196 0.196 0.196 0.196 0.196 0.196 0.196 0.196"/></feComponentTransfer>
<feMerge><feMergeNode in="c"/><feMergeNode in="ew"/></feMerge>
</filter>
</defs>
<rect width="2400" height="1800" fill="#fff"/>
<text x="1200.1" y="105.9" font-size="44.44" fill="#333333" text-anchor="middle" textLength="1528.5" lengthAdjust="spacingAndGlyphs">Observed conditions visualised as percentile within defined ERA5 climatology</text>
<text x="1200.6" y="157.5" font-size="44.44" fill="#333333" text-anchor="middle" textLength="888.6" lengthAdjust="spacingAndGlyphs">Accumulated precipitation (pr), days 19 to 25</text>
<text x="464.5" y="208.7" font-size="38.89" fill="#333333" text-anchor="middle">(a) 20250901 to 20250908</text>
<svg x="120.4" y="226.5" width="688.1" height="219" viewBox="0 0 688.1 219" overflow="hidden">
<g clip-path="url(#landclip)"><rect width="688.1" height="219" filter="url(#nz0)"/></g>
<use href="#borders"/><use href="#wedge"/><use href="#coast"/><use href="#grid"/>
</svg>
<rect x="120.4" y="226.5" width="688.1" height="219" fill="none" stroke="#aaaaaa" stroke-width="2.7"/>
<text x="107.6" y="249.8" font-size="30.56" fill="#333333" text-anchor="end">60°N</text>
<text x="107.6" y="289.9" font-size="30.56" fill="#333333" text-anchor="end">30°N</text>
<text x="107.6" y="344.6" font-size="30.56" fill="#333333" text-anchor="end">0°</text>
<text x="107.6" y="399.4" font-size="30.56" fill="#333333" text-anchor="end">30°S</text>
<text x="107.6" y="439.5" font-size="30.56" fill="#333333" text-anchor="end">60°S</text>
<text x="1200.5" y="208.7" font-size="38.89" fill="#333333" text-anchor="middle">(b) 20250908 to 20250915</text>
<svg x="856.4" y="226.5" width="688.1" height="219" viewBox="0 0 688.1 219" overflow="hidden">
<g clip-path="url(#landclip)"><rect width="688.1" height="219" filter="url(#nz1)"/></g>
<use href="#borders"/><use href="#wedge"/><use href="#coast"/><use href="#grid"/>
</svg>
<rect x="856.4" y="226.5" width="688.1" height="219" fill="none" stroke="#aaaaaa" stroke-width="2.7"/>
<text x="1936.5" y="208.7" font-size="38.89" fill="#333333" text-anchor="middle">(c) 20250915 to 20250922</text>
<svg x="1592.5" y="226.5" width="688.1" height="219" viewBox="0 0 688.1 219" overflow="hidden">
<g clip-path="url(#landclip)"><rect width="688.1" height="219" filter="url(#nz2)"/></g>
<use href="#borders"/><use href="#wedge"/><use href="#coast"/><use href="#grid"/>
</svg>
<rect x="1592.5" y="226.5" width="688.1" height="219" fill="none" stroke="#aaaaaa" stroke-width="2.7"/>
<text x="464.5" y="513.5" font-size="38.89" fill="#333333" text-anchor="middle">(d) 20250922 to 20250929</text>
<svg x="120.4" y="531.2" width="688.1" height="219" viewBox="0 0 688.1 219" overflow="hidden">
<use href="#borders"/><use href="#wedge"/><use href="#coast"/><use href="#grid"/>
</svg>
<rect x="120.4" y="531.2" width="688.1" height="219" fill="none" stroke="#aaaaaa" stroke-width="2.7"/>
<rect x="327.9" y="601.8" width="272.1" height="74.3" fill="#fff"/>
<text x="465.1" y="629.8" font-size="33.33" fill="#333333" text-anchor="middle">Forecasted period</text>
<text x="465.1" y="666.6" font-size="33.33" fill="#333333" text-anchor="middle">not surpassed yet</text>
<text x="107.6" y="554.5" font-size="30.56" fill="#333333" text-anchor="end">60°N</text>
<text x="107.6" y="594.6" font-size="30.56" fill="#333333" text-anchor="end">30°N</text>
<text x="107.6" y="649.4" font-size="30.56" fill="#333333" text-anchor="end">0°</text>
<text x="107.6" y="704.1" font-size="30.56" fill="#333333" text-anchor="end">30°S</text>
<text x="107.6" y="744.2" font-size="30.56" fill="#333333" text-anchor="end">60°S</text>
<text x="1200.5" y="513.5" font-size="38.89" fill="#333333" text-anchor="middle">(e) 20250929 to 20251006</text>
<svg x="856.4" y="531.2" width="688.1" height="219" viewBox="0 0 688.1 219" overflow="hidden">
<use href="#borders"/><use href="#wedge"/><use href="#coast"/><use href="#grid"/>
</svg>
<rect x="856.4" y="531.2" width="688.1" height="219" fill="none" stroke="#aaaaaa" stroke-width="2.7"/>
<rect x="1063.9" y="601.8" width="272.1" height="74.3" fill="#fff"/>
<text x="1201.1" y="629.8" font-size="33.33" fill="#333333" text-anchor="middle">Forecasted period</text>
<text x="1201.1" y="666.6" font-size="33.33" fill="#333333" text-anchor="middle">not surpassed yet</text>
<text x="1936.5" y="513.5" font-size="38.89" fill="#333333" text-anchor="middle">(f) 20251006 to 20251013</text>
<svg x="1592.5" y="531.2" width="688.1" height="219" viewBox="0 0 688.1 219" overflow="hidden">
<use href="#borders"/><use href="#wedge"/><use href="#coast"/><use href="#grid"/>
</svg>
<rect x="1592.5" y="531.2" width="688.1" height="219" fill="none" stroke="#aaaaaa" stroke-width="2.7"/>
<rect x="1800" y="601.8" width="272.1" height="74.3" fill="#fff"/>
<text x="1937.2" y="629.8" font-size="33.33" fill="#333333" text-anchor="middle">Forecasted period</text>
<text x="1937.2" y="666.6" font-size="33.33" fill="#333333" text-anchor="middle">not surpassed yet</text>
<text x="464.5" y="818.2" font-size="38.89" fill="#333333" text-anchor="middle">(g) 20251013 to 20251020</text>
<svg x="120.4" y="836" width="688.1" height="219" viewBox="0 0 688.1 219" overflow="hidden">
<use href="#borders"/><use href="#wedge"/><use href="#coast"/><use href="#grid"/>
</svg>
<rect x="120.4" y="836" width="688.1" height="219" fill="none" stroke="#aaaaaa" stroke-width="2.7"/>
<rect x="327.9" y="906.5" width="272.1" height="74.3" fill="#fff"/>
<text x="465.1" y="934.5" font-size="33.33" fill="#333333" text-anchor="middle">Forecasted period</text>
<text x="465.1" y="971.4" font-size="33.33" fill="#333333" text-anchor="middle">not surpassed yet</text>
<text x="107.6" y="859.3" font-size="30.56" fill="#333333" text-anchor="end">60°N</text>
<text x="107.6" y="899.4" font-size="30.56" fill="#333333" text-anchor="end">30°N</text>
<text x="107.6" y="954.1" font-size="30.56" fill="#333333" text-anchor="end">0°</text>
<text x="107.6" y="1008.9" font-size="30.56" fill="#333333" text-anchor="end">30°S</text>
<text x="107.6" y="1049" font-size="30.56" fill="#333333" text-anchor="end">60°S</text>
<text x="1200.5" y="818.2" font-size="38.89" fill="#333333" text-anchor="middle">(h) 20251020 to 20251027</text>
<svg x="856.4" y="836" width="688.1" height="219" viewBox="0 0 688.1 219" overflow="hidden">
<use href="#borders"/><use href="#wedge"/><use href="#coast"/><use href="#grid"/>
</svg>
<rect x="856.4" y="836" width="688.1" height="219" fill="none" stroke="#aaaaaa" stroke-width="2.7"/>
<rect x="1063.9" y="906.5" width="272.1" height="74.3" fill="#fff"/>
<text x="1201.1" y="934.5" font-size="33.33" fill="#333333" text-anchor="middle">Forecasted period</text>
<text x="1201.1" y="971.4" font-size="33.33" fill="#333333" text-anchor="middle">not surpassed yet</text>
<text x="1936.5" y="818.2" font-size="38.89" fill="#333333" text-anchor="middle">(i) 20251027 to 20251103</text>
<svg x="1592.5" y="836" width="688.1" height="219" viewBox="0 0 688.1 219" overflow="hidden">
<use href="#borders"/><use href="#wedge"/><use href="#coast"/><use href="#grid"/>
</svg>
<rect x="1592.5" y="836" width="688.1" height="219" fill="none" stroke="#aaaaaa" stroke-width="2.7"/>
<rect x="1800" y="906.5" width="272.1" height="74.3" fill="#fff"/>
<text x="1937.2" y="934.5" font-size="33.33" fill="#333333" text-anchor="middle">Forecasted period</text>
<text x="1937.2" y="971.4" font-size="33.33" fill="#333333" text-anchor="middle">not surpassed yet</text>
<text x="464.5" y="1123" font-size="38.89" fill="#333333" text-anchor="middle">(j) 20251103 to 20251110</text>
<svg x="120.4" y="1140.8" width="688.1" height="219" viewBox="0 0 688.1 219" overflow="hidden">
<use href="#borders"/><use href="#wedge"/><use href="#coast"/><use href="#grid"/>
</svg>
<rect x="120.4" y="1140.8" width="688.1" height="219" fill="none" stroke="#aaaaaa" stroke-width="2.7"/>
<rect x="327.9" y="1211.2" width="272.1" height="74.3" fill="#fff"/>
<text x="465.1" y="1239.2" font-size="33.33" fill="#333333" text-anchor="middle">Forecasted period</text>
<text x="465.1" y="1276.2" font-size="33.33" fill="#333333" text-anchor="middle">not surpassed yet</text>
<text x="107.6" y="1164" font-size="30.56" fill="#333333" text-anchor="end">60°N</text>
<text x="107.6" y="1204.1" font-size="30.56" fill="#333333" text-anchor="end">30°N</text>
<text x="107.6" y="1258.9" font-size="30.56" fill="#333333" text-anchor="end">0°</text>
<text x="107.6" y="1313.6" font-size="30.56" fill="#333333" text-anchor="end">30°S</text>
<text x="107.6" y="1353.7" font-size="30.56" fill="#333333" text-anchor="end">60°S</text>
<text x="1200.5" y="1123" font-size="38.89" fill="#333333" text-anchor="middle">(k) 20251110 to 20251117</text>
<svg x="856.4" y="1140.8" width="688.1" height="219" viewBox="0 0 688.1 219" overflow="hidden">
<use href="#borders"/><use href="#wedge"/><use href="#coast"/><use href="#grid"/>
</svg>
<rect x="856.4" y="1140.8" width="688.1" height="219" fill="none" stroke="#aaaaaa" stroke-width="2.7"/>
<rect x="1063.9" y="1211.2" width="272.1" height="74.3" fill="#fff"/>
<text x="1201.1" y="1239.2" font-size="33.33" fill="#333333" text-anchor="middle">Forecasted period</text>
<text x="1201.1" y="1276.2" font-size="33.33" fill="#333333" text-anchor="middle">not surpassed yet</text>
<text x="971.1" y="1394.1" font-size="30.56" fill="#333333" text-anchor="middle">120°W</text>
<text x="1085.8" y="1394.1" font-size="30.56" fill="#333333" text-anchor="middle">60°W</text>
<text x="1200.5" y="1394.1" font-size="30.56" fill="#333333" text-anchor="middle">0°</text>
<text x="1315.1" y="1394.1" font-size="30.56" fill="#333333" text-anchor="middle">60°E</text>
<text x="1429.8" y="1394.1" font-size="30.56" fill="#333333" text-anchor="middle">120°E</text>
<text x="1936.5" y="1123" font-size="38.89" fill="#333333" text-anchor="middle">(l) 20251117 to 20251124</text>
<svg x="1592.5" y="1140.8" width="688.1" height="219" viewBox="0 0 688.1 219" overflow="hidden">
<use href="#borders"/><use href="#wedge"/><use href="#coast"/><use href="#grid"/>
</svg>
<rect x="1592.5" y="1140.8" width="688.1" height="219" fill="none" stroke="#aaaaaa" stroke-width="2.7"/>
<rect x="1800" y="1211.2" width="272.1" height="74.3" fill="#fff"/>
<text x="1937.2" y="1239.2" font-size="33.33" fill="#333333" text-anchor="middle">Forecasted period</text>
<text x="1937.2" y="1276.2" font-size="33.33" fill="#333333" text-anchor="middle">not surpassed yet</text>
<text x="1707.2" y="1394.1" font-size="30.56" fill="#333333" text-anchor="middle">120°W</text>
<text x="1821.9" y="1394.1" font-size="30.56" fill="#333333" text-anchor="middle">60°W</text>
<text x="1936.5" y="1394.1" font-size="30.56" fill="#333333" text-anchor="middle">0°</text>
<text x="2051.2" y="1394.1" font-size="30.56" fill="#333333" text-anchor="middle">60°E</text>
<text x="2165.9" y="1394.1" font-size="30.56" fill="#333333" text-anchor="middle">120°E</text>
<text x="464.5" y="1427.7" font-size="38.89" fill="#333333" text-anchor="middle">(m) 20251124 to 20251201</text>
<svg x="120.4" y="1445.5" width="688.1" height="219" viewBox="0 0 688.1 219" overflow="hidden">
<use href="#borders"/><use href="#wedge"/><use href="#coast"/><use href="#grid"/>
</svg>
<rect x="120.4" y="1445.5" width="688.1" height="219" fill="none" stroke="#aaaaaa" stroke-width="2.7"/>
<rect x="327.9" y="1516" width="272.1" height="74.3" fill="#fff"/>
<text x="465.1" y="1544" font-size="33.33" fill="#333333" text-anchor="middle">Forecasted period</text>
<text x="465.1" y="1580.9" font-size="33.33" fill="#333333" text-anchor="middle">not surpassed yet</text>
<text x="107.6" y="1468.8" font-size="30.56" fill="#333333" text-anchor="end">60°N</text>
<text x="107.6" y="1508.9" font-size="30.56" fill="#333333" text-anchor="end">30°N</text>
<text x="107.6" y="1563.6" font-size="30.56" fill="#333333" text-anchor="end">0°</text>
<text x="107.6" y="1618.4" font-size="30.56" fill="#333333" text-anchor="end">30°S</text>
<text x="107.6" y="1658.5" font-size="30.56" fill="#333333" text-anchor="end">60°S</text>
<text x="235.1" y="1698.8" font-size="30.56" fill="#333333" text-anchor="middle">120°W</text>
<text x="349.8" y="1698.8" font-size="30.56" fill="#333333" text-anchor="middle">60°W</text>
<text x="464.5" y="1698.8" font-size="30.56" fill="#333333" text-anchor="middle">0°</text>
<text x="579.1" y="1698.8" font-size="30.56" fill="#333333" text-anchor="middle">60°E</text>
<text x="693.8" y="1698.8" font-size="30.56" fill="#333333" text-anchor="middle">120°E</text>
<polygon points="1044.3,1660.7 1092.4,1630 1092.4,1691.4" fill="#a0653f"/>
<polygon points="2091.4,1660.7 2043.3,1630 2043.3,1691.4" fill="#a23232"/>
<rect x="1091.6" y="1630" width="48.2" height="61.4" fill="#a0653f"/>
<rect x="1139.2" y="1630" width="48.2" height="61.4" fill="#b98b6e"/>
<rect x="1186.8" y="1630" width="48.2" height="61.4" fill="#d3b4a0"/>
<rect x="1234.4" y="1630" width="48.2" height="61.4" fill="#e8ddd4"/>
<rect x="1282" y="1630" width="48.2" height="61.4" fill="#358733"/>
<rect x="1329.6" y="1630" width="48.2" height="61.4" fill="#68a466"/>
<rect x="1377.2" y="1630" width="48.2" height="61.4" fill="#9bc499"/>
<rect x="1424.8" y="1630" width="48.2" height="61.4" fill="#cde1cc"/>
<rect x="1472.4" y="1630" width="48.2" height="61.4" fill="#cfe8ea"/>
<rect x="1520" y="1630" width="48.2" height="61.4" fill="#9dd4d2"/>
<rect x="1567.5" y="1630" width="48.2" height="61.4" fill="#65bab8"/>
<rect x="1615.1" y="1630" width="48.2" height="61.4" fill="#33a3a3"/>
<rect x="1662.7" y="1630" width="48.2" height="61.4" fill="#e8c8e6"/>
<rect x="1710.3" y="1630" width="48.2" height="61.4" fill="#d296d3"/>
<rect x="1757.9" y="1630" width="48.2" height="61.4" fill="#b765b9"/>
<rect x="1805.5" y="1630" width="48.2" height="61.4" fill="#9e33a5"/>
<rect x="1853.1" y="1630" width="48.2" height="61.4" fill="#e8cccc"/>
<rect x="1900.7" y="1630" width="48.2" height="61.4" fill="#d39999"/>
<rect x="1948.3" y="1630" width="48.2" height="61.4" fill="#bb6666"/>
<rect x="1995.9" y="1630" width="48.2" height="61.4" fill="#a23232"/>
<polygon points="1044.3,1660.7 1091.9,1630 2043.8,1630 2091.4,1660.7 2043.8,1691.4 1091.9,1691.4" fill="none" stroke="#aaaaaa" stroke-width="2.6" stroke-linejoin="miter" stroke-miterlimit="10"/>
<line x1="1091.9" y1="1692.6" x2="1091.9" y2="1702.3" stroke="#111" stroke-width="2"/>
<line x1="1139.5" y1="1692.6" x2="1139.5" y2="1698.2" stroke="#111" stroke-width="2"/>
<line x1="1187.1" y1="1692.6" x2="1187.1" y2="1698.2" stroke="#111" stroke-width="2"/>
<line x1="1234.7" y1="1692.6" x2="1234.7" y2="1698.2" stroke="#111" stroke-width="2"/>
<line x1="1282.3" y1="1692.6" x2="1282.3" y2="1702.3" stroke="#111" stroke-width="2"/>
<line x1="1329.9" y1="1692.6" x2="1329.9" y2="1698.2" stroke="#111" stroke-width="2"/>
<line x1="1377.5" y1="1692.6" x2="1377.5" y2="1698.2" stroke="#111" stroke-width="2"/>
<line x1="1425.1" y1="1692.6" x2="1425.1" y2="1698.2" stroke="#111" stroke-width="2"/>
<line x1="1472.7" y1="1692.6" x2="1472.7" y2="1702.3" stroke="#111" stroke-width="2"/>
<line x1="1520.3" y1="1692.6" x2="1520.3" y2="1698.2" stroke="#111" stroke-width="2"/>
<line x1="1567.8" y1="1692.6" x2="1567.8" y2="1698.2" stroke="#111" stroke-width="2"/>
<line x1="1615.4" y1="1692.6" x2="1615.4" y2="1698.2" stroke="#111" stroke-width="2"/>
<line x1="1663" y1="1692.6" x2="1663" y2="1702.3" stroke="#111" stroke-width="2"/>
<line x1="1710.6" y1="1692.6" x2="1710.6" y2="1698.2" stroke="#111" stroke-width="2"/>
<line x1="1758.2" y1="1692.6" x2="1758.2" y2="1698.2" stroke="#111" stroke-width="2"/>
<line x1="1805.8" y1="1692.6" x2="1805.8" y2="1698.2" stroke="#111" stroke-width="2"/>
<line x1="1853.4" y1="1692.6" x2="1853.4" y2="1702.3" stroke="#111" stroke-width="2"/>
<line x1="1901" y1="1692.6" x2="1901" y2="1698.2" stroke="#111" stroke-width="2"/>
<line x1="1948.6" y1="1692.6" x2="1948.6" y2="1698.2" stroke="#111" stroke-width="2"/>
<line x1="1996.2" y1="1692.6" x2="1996.2" y2="1698.2" stroke="#111" stroke-width="2"/>
<line x1="2043.8" y1="1692.6" x2="2043.8" y2="1702.3" stroke="#111" stroke-width="2"/>
<text x="1091.9" y="1731.6" font-size="27.78" fill="#111" text-anchor="middle">0</text>
<text x="1282.3" y="1731.6" font-size="27.78" fill="#111" text-anchor="middle">20</text>
<text x="1472.7" y="1731.6" font-size="27.78" fill="#111" text-anchor="middle">40</text>
<text x="1663" y="1731.6" font-size="27.78" fill="#111" text-anchor="middle">60</text>
<text x="1853.4" y="1731.6" font-size="27.78" fill="#111" text-anchor="middle">80</text>
<text x="2043.8" y="1731.6" font-size="27.78" fill="#111" text-anchor="middle">100</text>
<text x="1567.8" y="1770.9" font-size="27.78" fill="#111" text-anchor="middle" textLength="414.3" lengthAdjust="spacingAndGlyphs">Percentile of observed conditions</text>
</svg>
</body></html>
